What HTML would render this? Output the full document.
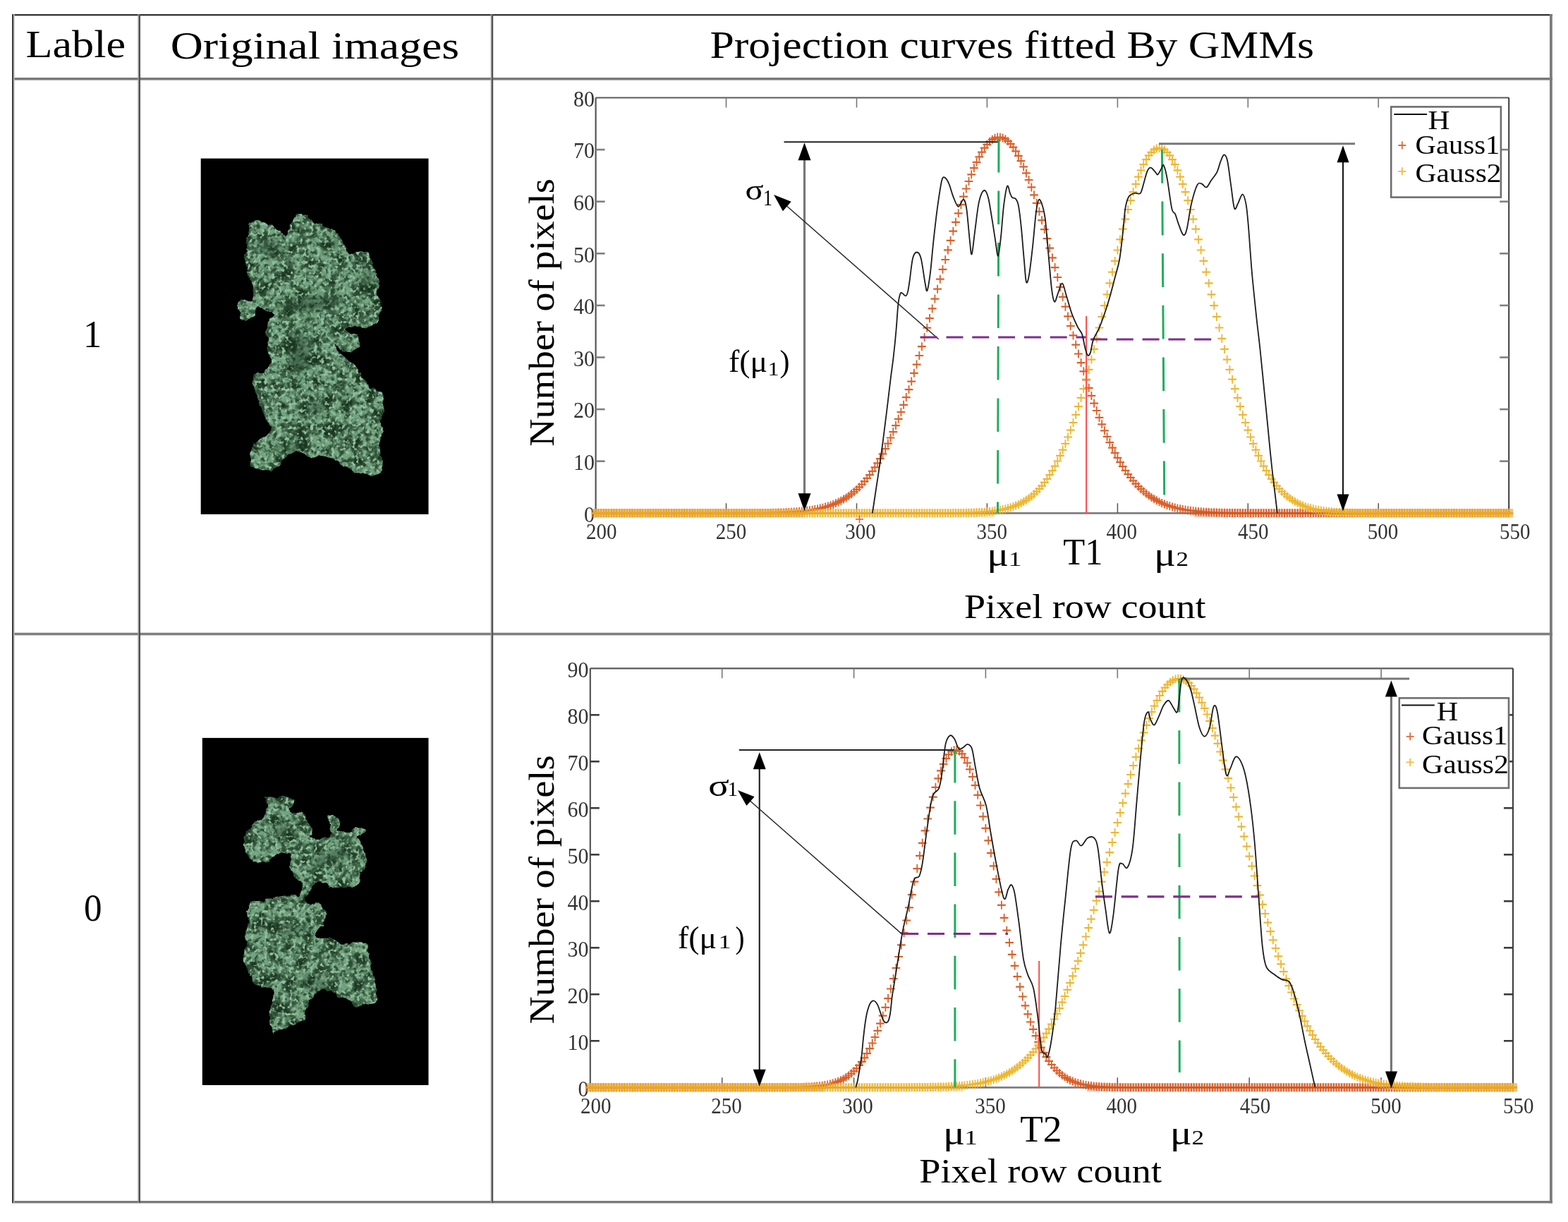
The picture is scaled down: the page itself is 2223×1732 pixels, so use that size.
<!DOCTYPE html><html><head><meta charset="utf-8"><title>Projection curves fitted by GMMs</title><style>html,body{margin:0;padding:0;background:#fff;overflow:hidden}svg{display:block}</style></head><body><svg width="2223" height="1732" viewBox="0 0 2223 1732" font-family="'Liberation Serif', 'DejaVu Serif', serif">
<defs><filter id="soft" x="-2%" y="-2%" width="104%" height="104%"><feGaussianBlur stdDeviation="0.45"/></filter><filter id="blur4" x="-50%" y="-50%" width="200%" height="200%"><feGaussianBlur stdDeviation="4"/></filter><filter id="lumpy" x="-5%" y="-5%" width="110%" height="110%"><feTurbulence type="fractalNoise" baseFrequency="0.09" numOctaves="2" seed="3" result="n"/><feDisplacementMap in="SourceGraphic" in2="n" scale="9" xChannelSelector="R" yChannelSelector="G"/></filter><filter id="dark1" x="0" y="0" width="100%" height="100%" color-interpolation-filters="sRGB"><feTurbulence type="fractalNoise" baseFrequency="0.05" numOctaves="3" seed="11" result="n"/><feColorMatrix in="n" type="matrix" values="0 0 0 0 0.10  0 0 0 0 0.21  0 0 0 0 0.12  0 0 0 -4.2 2.35"/></filter><filter id="mid1" x="0" y="0" width="100%" height="100%" color-interpolation-filters="sRGB"><feTurbulence type="fractalNoise" baseFrequency="0.16" numOctaves="2" seed="18" result="n"/><feColorMatrix in="n" type="matrix" values="0 0 0 0 0.17  0 0 0 0 0.30  0 0 0 0 0.20  0 0 0 -4 2.2"/></filter><filter id="light1" x="0" y="0" width="100%" height="100%" color-interpolation-filters="sRGB"><feTurbulence type="fractalNoise" baseFrequency="0.2" numOctaves="2" seed="31" result="n"/><feColorMatrix in="n" type="matrix" values="0 0 0 0 0.58  0 0 0 0 0.76  0 0 0 0 0.63  0 0 0 5 -2.55"/></filter><filter id="dark2" x="0" y="0" width="100%" height="100%" color-interpolation-filters="sRGB"><feTurbulence type="fractalNoise" baseFrequency="0.05" numOctaves="3" seed="5" result="n"/><feColorMatrix in="n" type="matrix" values="0 0 0 0 0.10  0 0 0 0 0.21  0 0 0 0 0.12  0 0 0 -4.2 2.35"/></filter><filter id="mid2" x="0" y="0" width="100%" height="100%" color-interpolation-filters="sRGB"><feTurbulence type="fractalNoise" baseFrequency="0.16" numOctaves="2" seed="12" result="n"/><feColorMatrix in="n" type="matrix" values="0 0 0 0 0.17  0 0 0 0 0.30  0 0 0 0 0.20  0 0 0 -4 2.2"/></filter><filter id="light2" x="0" y="0" width="100%" height="100%" color-interpolation-filters="sRGB"><feTurbulence type="fractalNoise" baseFrequency="0.2" numOctaves="2" seed="25" result="n"/><feColorMatrix in="n" type="matrix" values="0 0 0 0 0.58  0 0 0 0 0.76  0 0 0 0 0.63  0 0 0 5 -2.55"/></filter></defs>
<rect x="0.0" y="0.0" width="2223.0" height="1732.0" fill="#fff"/>
<rect x="17.0" y="20.0" width="2184.0" height="2.0" fill="#363636"/>
<rect x="17.0" y="22.0" width="2184.0" height="1.0" fill="#b8b8b8"/>
<rect x="17.0" y="110.0" width="2184.0" height="3.6" fill="#7a7a7a"/>
<rect x="17.0" y="896.8" width="2184.0" height="3.6" fill="#7e7e7e"/>
<rect x="17.0" y="1702.0" width="2184.0" height="3.4" fill="#7a7a7a"/>
<rect x="17.0" y="20.0" width="2.0" height="1685.0" fill="#3c3c3c"/>
<rect x="19.0" y="20.0" width="1.6" height="1685.0" fill="#b4b4b4"/>
<rect x="195.4" y="20.0" width="1.4" height="1685.0" fill="#a0a0a0"/>
<rect x="196.8" y="20.0" width="2.2" height="1685.0" fill="#505050"/>
<rect x="695.6" y="20.0" width="1.2" height="1685.0" fill="#a8a8a8"/>
<rect x="696.8" y="20.0" width="2.4" height="1685.0" fill="#555555"/>
<rect x="2197.0" y="20.0" width="3.8" height="1685.4" fill="#7c7c7c"/>
<text x="36.5" y="81.3" font-size="55.8" fill="#000" textLength="141.5" lengthAdjust="spacingAndGlyphs">Lable</text>
<text x="241.7" y="82.8" font-size="55.8" fill="#000" textLength="409.4" lengthAdjust="spacingAndGlyphs">Original images</text>
<text x="1006.5" y="81.8" font-size="55.8" fill="#000" textLength="856.5" lengthAdjust="spacingAndGlyphs">Projection curves fitted By GMMs</text>
<text x="117.9" y="491.8" font-size="55" fill="#000" textLength="26.2" lengthAdjust="spacingAndGlyphs">1</text>
<text x="118.9" y="1304.5" font-size="54" fill="#000" textLength="25.5" lengthAdjust="spacingAndGlyphs">0</text>
<rect x="284.7" y="224.6" width="322.8" height="504.3" fill="#000"/>
<mask id="tm1" maskUnits="userSpaceOnUse" x="284.7" y="224.6" width="322.8" height="504.3"><path d="M352.5,315.9 C354.3,312.3 359.0,312.6 363.4,312.8 C367.8,313.1 373.8,315.3 379.0,317.4 C384.2,319.5 390.5,322.3 394.6,325.2 C398.8,328.1 401.3,335.1 403.9,334.6 C406.5,334.1 407.5,326.8 410.1,322.1 C412.7,317.4 415.4,309.4 419.5,306.5 C423.6,303.6 430.9,303.4 435.0,305.0 C439.1,306.6 439.7,313.0 444.4,315.9 C449.1,318.8 457.4,319.5 463.1,322.1 C468.8,324.7 474.6,327.4 478.7,331.5 C482.8,335.6 485.4,342.3 488.0,347.0 C490.6,351.7 489.0,357.9 494.2,359.5 C499.4,361.1 513.9,354.8 519.1,356.4 C524.3,357.9 523.3,364.1 525.4,368.8 C527.5,373.5 529.5,379.7 531.6,384.4 C533.7,389.1 537.3,391.7 537.8,396.9 C538.3,402.1 534.4,410.3 534.7,415.5 C535.0,420.7 538.9,422.8 539.4,428.0 C539.9,433.2 539.1,441.5 537.8,446.7 C536.5,451.9 534.7,456.5 531.6,459.1 C528.5,461.7 524.1,461.8 519.0,462.5 C513.9,463.2 506.0,462.8 501.0,463.5 C496.0,464.2 489.7,465.1 489.0,466.5 C488.3,467.9 494.0,470.2 497.0,472.0 C500.0,473.8 504.8,474.3 507.0,477.0 C509.2,479.7 510.7,484.6 510.0,488.0 C509.3,491.4 506.5,495.8 503.0,497.5 C499.5,499.2 493.0,499.1 489.0,498.0 C485.0,496.9 481.5,492.5 479.0,491.0 C476.5,489.5 472.5,486.0 474.0,489.0 C475.5,492.0 482.6,503.6 488.0,509.0 C493.4,514.4 502.0,516.2 506.7,521.4 C511.4,526.6 512.4,535.4 516.0,540.1 C519.6,544.8 524.3,546.4 528.5,549.5 C532.7,552.6 538.4,554.1 541.0,558.8 C543.6,563.5 544.0,570.8 544.0,577.5 C544.0,584.2 540.9,593.1 540.9,599.3 C540.9,605.5 544.5,610.2 544.0,614.9 C543.5,619.6 538.3,622.1 537.8,627.3 C537.3,632.5 540.5,639.2 541.0,646.0 C541.5,652.8 544.6,663.4 541.0,667.8 C537.4,672.2 525.9,672.5 519.1,672.5 C512.4,672.5 507.8,671.2 500.5,667.8 C493.2,664.4 482.8,655.8 475.5,652.2 C468.2,648.6 463.1,646.5 456.9,646.0 C450.7,645.5 442.9,650.1 438.2,649.1 C433.5,648.1 432.4,641.3 428.8,639.8 C425.2,638.2 421.1,637.7 416.4,639.8 C411.7,641.9 405.5,648.1 400.8,652.2 C396.1,656.4 394.5,662.6 388.3,664.7 C382.1,666.8 369.1,666.8 363.4,664.7 C357.7,662.6 355.1,657.4 354.1,652.2 C353.1,647.0 354.6,638.7 357.2,633.5 C359.8,628.3 365.0,625.2 369.7,621.1 C374.4,617.0 384.2,613.3 385.2,608.6 C386.2,603.9 378.5,598.7 375.9,593.0 C373.3,587.3 372.3,581.1 369.7,574.4 C367.1,567.7 361.9,559.9 360.3,552.6 C358.7,545.3 357.7,534.9 360.3,530.8 C362.9,526.6 372.3,531.3 375.9,527.7 C379.5,524.1 381.6,516.8 382.1,509.0 C382.6,501.2 379.5,489.7 379.0,480.9 C378.5,472.1 377.4,461.7 379.0,456.0 C380.6,450.3 389.3,449.8 388.3,446.7 C387.3,443.6 377.0,439.4 372.8,437.3 C368.6,435.2 365.5,432.1 363.4,434.2 C361.3,436.3 363.4,446.7 360.3,449.8 C357.2,452.9 348.6,455.5 344.7,452.9 C340.8,450.3 337.0,438.9 337.0,434.2 C337.0,429.5 341.1,426.4 344.7,424.9 C348.3,423.3 356.7,428.5 358.8,424.9 C360.9,421.3 358.5,409.9 357.2,403.1 C355.9,396.4 352.6,391.7 351.0,384.4 C349.4,377.1 347.6,367.8 347.9,359.5 C348.1,351.2 351.7,341.9 352.5,334.6 C353.3,327.3 350.7,319.5 352.5,315.9Z" fill="#fff" filter="url(#lumpy)"/></mask>
<g mask="url(#tm1)">
<rect x="284.7" y="224.6" width="322.8" height="504.3" fill="#72a27f"/>
<rect x="284.7" y="224.6" width="322.8" height="504.3" filter="url(#dark1)"/>
<rect x="284.7" y="224.6" width="322.8" height="504.3" filter="url(#mid1)"/>
<rect x="284.7" y="224.6" width="322.8" height="504.3" filter="url(#light1)"/>
<ellipse cx="383" cy="352" rx="18" ry="12" transform="rotate(30 383 352)" fill="#12301a" opacity="0.45" filter="url(#blur4)"/>
<ellipse cx="440" cy="431" rx="45" ry="10" transform="rotate(-8 440 431)" fill="#12301a" opacity="0.5" filter="url(#blur4)"/>
<ellipse cx="423" cy="500" rx="13" ry="32" transform="rotate(0 423 500)" fill="#12301a" opacity="0.5" filter="url(#blur4)"/>
<ellipse cx="520" cy="400" rx="12" ry="18" transform="rotate(0 520 400)" fill="#12301a" opacity="0.35" filter="url(#blur4)"/>
<ellipse cx="448" cy="579" rx="13" ry="10" transform="rotate(0 448 579)" fill="#12301a" opacity="0.45" filter="url(#blur4)"/>
<ellipse cx="408" cy="636" rx="17" ry="7" transform="rotate(0 408 636)" fill="#12301a" opacity="0.4" filter="url(#blur4)"/>
<ellipse cx="470" cy="345" rx="12" ry="8" transform="rotate(0 470 345)" fill="#12301a" opacity="0.3" filter="url(#blur4)"/>
</g>
<rect x="286.8" y="1045.9" width="320.7" height="492.1" fill="#000"/>
<mask id="tm2" maskUnits="userSpaceOnUse" x="286.8" y="1045.9" width="320.7" height="492.1"><path d="M379.0,1129.7 C385.0,1129.4 407.3,1129.7 413.3,1131.2 C419.2,1132.8 415.3,1135.9 414.8,1139.0 C414.3,1142.1 407.8,1147.8 410.1,1149.9 C412.5,1152.0 424.2,1148.6 428.8,1151.5 C433.5,1154.3 435.8,1162.9 438.2,1167.0 C440.5,1171.2 442.8,1173.3 442.8,1176.4 C442.8,1179.5 435.8,1183.6 438.2,1185.7 C440.5,1187.8 451.7,1189.3 456.9,1188.8 C462.0,1188.3 467.8,1188.1 469.3,1182.6 C470.9,1177.2 465.2,1160.3 466.2,1156.1 C467.2,1152.0 472.4,1155.9 475.5,1157.7 C478.7,1159.5 484.4,1163.9 484.9,1167.0 C485.4,1170.1 477.6,1174.3 478.7,1176.4 C479.7,1178.4 485.4,1180.0 491.1,1179.5 C496.8,1179.0 508.5,1173.5 512.9,1173.3 C517.3,1173.0 518.6,1175.9 517.6,1177.9 C516.5,1180.0 507.5,1182.3 506.7,1185.7 C505.9,1189.1 510.8,1193.0 512.9,1198.2 C515.0,1203.4 518.4,1211.7 519.1,1216.9 C519.9,1222.0 519.1,1225.2 517.6,1229.3 C516.0,1233.5 511.6,1237.6 509.8,1241.8 C508.0,1245.9 509.3,1251.4 506.7,1254.2 C504.1,1257.1 500.5,1258.6 494.2,1258.9 C488.0,1259.2 476.6,1257.1 469.3,1255.8 C462.0,1254.5 455.6,1250.3 450.6,1251.1 C445.7,1251.9 442.6,1256.3 439.7,1260.5 C436.9,1264.6 433.8,1272.9 433.5,1276.0 C433.2,1279.1 434.3,1277.6 438.2,1279.1 C442.1,1280.7 453.0,1282.3 456.9,1285.4 C460.8,1288.5 461.5,1293.7 461.5,1297.8 C461.5,1302.0 459.2,1306.7 456.9,1310.3 C454.5,1313.9 449.1,1316.5 447.5,1319.6 C446.0,1322.7 444.9,1327.4 447.5,1329.0 C450.1,1330.5 458.4,1328.2 463.1,1329.0 C467.8,1329.8 471.4,1332.1 475.5,1333.6 C479.7,1335.2 482.8,1338.1 488.0,1338.3 C493.2,1338.6 501.5,1335.2 506.7,1335.2 C511.9,1335.2 516.3,1334.7 519.1,1338.3 C522.0,1341.9 522.3,1350.8 523.8,1357.0 C525.4,1363.2 526.9,1368.4 528.5,1375.7 C530.0,1383.0 532.4,1393.3 533.2,1400.6 C533.9,1407.9 535.0,1415.7 533.2,1419.3 C531.3,1422.9 526.7,1421.4 522.3,1422.4 C517.8,1423.4 511.4,1426.0 506.7,1425.5 C502.0,1425.0 499.4,1421.9 494.2,1419.3 C489.0,1416.7 480.2,1412.5 475.5,1409.9 C470.9,1407.3 469.8,1404.8 466.2,1403.7 C462.6,1402.7 457.4,1402.2 453.7,1403.7 C450.1,1405.3 447.0,1409.9 444.4,1413.1 C441.8,1416.2 440.2,1418.8 438.2,1422.4 C436.1,1426.0 433.0,1430.7 431.9,1434.9 C430.9,1439.0 435.1,1444.2 431.9,1447.3 C428.8,1450.4 419.5,1451.5 413.3,1453.5 C407.0,1455.6 399.0,1458.0 394.6,1459.8 C390.2,1461.6 388.6,1468.1 386.8,1464.4 C385.0,1460.8 383.9,1445.0 383.7,1438.0 C383.4,1431.0 384.7,1428.1 385.2,1422.4 C385.7,1416.7 389.4,1407.9 386.8,1403.7 C384.2,1399.6 374.1,1399.6 369.7,1397.5 C365.2,1395.4 363.4,1394.9 360.3,1391.3 C357.2,1387.6 353.3,1381.9 351.0,1375.7 C348.6,1369.5 346.6,1360.1 346.3,1353.9 C346.0,1347.7 349.2,1343.5 349.4,1338.3 C349.7,1333.1 347.3,1327.4 347.9,1322.7 C348.4,1318.1 352.0,1316.0 352.5,1310.3 C353.0,1304.6 350.5,1293.7 351.0,1288.5 C351.5,1283.3 352.0,1281.2 355.6,1279.1 C359.3,1277.1 366.3,1277.3 372.8,1276.0 C379.3,1274.7 387.8,1272.4 394.6,1271.4 C401.3,1270.3 408.6,1269.8 413.3,1269.8 C417.9,1269.8 420.3,1271.9 422.6,1271.4 C424.9,1270.8 426.2,1269.5 427.3,1266.7 C428.3,1263.8 430.6,1258.4 428.8,1254.2 C427.0,1250.1 419.2,1245.9 416.4,1241.8 C413.5,1237.6 412.2,1234.0 411.7,1229.3 C411.2,1224.6 414.0,1217.4 413.3,1213.7 C412.5,1210.1 411.2,1207.5 407.0,1207.5 C402.9,1207.5 393.5,1211.1 388.3,1213.7 C383.2,1216.3 380.6,1222.0 375.9,1223.1 C371.2,1224.1 365.0,1223.1 360.3,1220.0 C355.6,1216.9 350.2,1209.6 347.9,1204.4 C345.5,1199.2 345.0,1194.0 346.3,1188.8 C347.6,1183.6 352.8,1177.4 355.6,1173.3 C358.5,1169.1 360.6,1166.5 363.4,1163.9 C366.3,1161.3 370.2,1160.8 372.8,1157.7 C375.4,1154.6 378.2,1149.4 379.0,1145.2 C379.8,1141.1 377.4,1135.4 377.4,1132.8 C377.4,1130.2 373.0,1129.9 379.0,1129.7Z" fill="#fff" filter="url(#lumpy)"/></mask>
<g mask="url(#tm2)">
<rect x="286.8" y="1045.9" width="320.7" height="492.1" fill="#72a27f"/>
<rect x="286.8" y="1045.9" width="320.7" height="492.1" filter="url(#dark2)"/>
<rect x="286.8" y="1045.9" width="320.7" height="492.1" filter="url(#mid2)"/>
<rect x="286.8" y="1045.9" width="320.7" height="492.1" filter="url(#light2)"/>
<ellipse cx="400" cy="1175" rx="14" ry="10" transform="rotate(0 400 1175)" fill="#12301a" opacity="0.35" filter="url(#blur4)"/>
<ellipse cx="470" cy="1215" rx="30" ry="10" transform="rotate(-20 470 1215)" fill="#12301a" opacity="0.35" filter="url(#blur4)"/>
<ellipse cx="420" cy="1320" rx="30" ry="7" transform="rotate(0 420 1320)" fill="#12301a" opacity="0.3" filter="url(#blur4)"/>
<ellipse cx="450" cy="1395" rx="25" ry="12" transform="rotate(20 450 1395)" fill="#12301a" opacity="0.3" filter="url(#blur4)"/>
</g>
<line x1="844.6" y1="138.5" x2="2139.2" y2="138.5" stroke="#5a5a5a" stroke-width="2.2" />
<line x1="844.6" y1="727.3" x2="2139.2" y2="727.3" stroke="#7f7f7f" stroke-width="2.8" />
<line x1="844.6" y1="138.5" x2="844.6" y2="727.3" stroke="#555" stroke-width="2.2" />
<line x1="2139.2" y1="138.5" x2="2139.2" y2="727.3" stroke="#3a3a3a" stroke-width="2" />
<line x1="1029.5" y1="138.5" x2="1029.5" y2="152.5" stroke="#777" stroke-width="1.6" />
<line x1="1029.5" y1="727.3" x2="1029.5" y2="713.3" stroke="#555" stroke-width="1.5" />
<line x1="1214.5" y1="138.5" x2="1214.5" y2="152.5" stroke="#777" stroke-width="1.6" />
<line x1="1214.5" y1="727.3" x2="1214.5" y2="713.3" stroke="#555" stroke-width="1.5" />
<line x1="1399.4" y1="138.5" x2="1399.4" y2="152.5" stroke="#777" stroke-width="1.6" />
<line x1="1399.4" y1="727.3" x2="1399.4" y2="713.3" stroke="#555" stroke-width="1.5" />
<line x1="1584.4" y1="138.5" x2="1584.4" y2="152.5" stroke="#777" stroke-width="1.6" />
<line x1="1584.4" y1="727.3" x2="1584.4" y2="713.3" stroke="#555" stroke-width="1.5" />
<line x1="1769.3" y1="138.5" x2="1769.3" y2="152.5" stroke="#777" stroke-width="1.6" />
<line x1="1769.3" y1="727.3" x2="1769.3" y2="713.3" stroke="#555" stroke-width="1.5" />
<line x1="1954.2" y1="138.5" x2="1954.2" y2="152.5" stroke="#777" stroke-width="1.6" />
<line x1="1954.2" y1="727.3" x2="1954.2" y2="713.3" stroke="#555" stroke-width="1.5" />
<line x1="844.6" y1="653.7" x2="857.6" y2="653.7" stroke="#808080" stroke-width="2.6" />
<line x1="2139.2" y1="653.7" x2="2126.2" y2="653.7" stroke="#808080" stroke-width="2.6" />
<line x1="844.6" y1="580.1" x2="857.6" y2="580.1" stroke="#808080" stroke-width="2.6" />
<line x1="2139.2" y1="580.1" x2="2126.2" y2="580.1" stroke="#808080" stroke-width="2.6" />
<line x1="844.6" y1="506.5" x2="857.6" y2="506.5" stroke="#808080" stroke-width="2.6" />
<line x1="2139.2" y1="506.5" x2="2126.2" y2="506.5" stroke="#808080" stroke-width="2.6" />
<line x1="844.6" y1="432.9" x2="857.6" y2="432.9" stroke="#808080" stroke-width="2.6" />
<line x1="2139.2" y1="432.9" x2="2126.2" y2="432.9" stroke="#808080" stroke-width="2.6" />
<line x1="844.6" y1="359.3" x2="857.6" y2="359.3" stroke="#808080" stroke-width="2.6" />
<line x1="2139.2" y1="359.3" x2="2126.2" y2="359.3" stroke="#808080" stroke-width="2.6" />
<line x1="844.6" y1="285.7" x2="857.6" y2="285.7" stroke="#808080" stroke-width="2.6" />
<line x1="2139.2" y1="285.7" x2="2126.2" y2="285.7" stroke="#808080" stroke-width="2.6" />
<line x1="844.6" y1="212.1" x2="857.6" y2="212.1" stroke="#808080" stroke-width="2.6" />
<line x1="2139.2" y1="212.1" x2="2126.2" y2="212.1" stroke="#808080" stroke-width="2.6" />
<text x="828.0" y="739.6" font-size="31.5" fill="#333" textLength="15.0" lengthAdjust="spacingAndGlyphs">0</text>
<text x="813.0" y="666.0" font-size="31.5" fill="#333" textLength="30.0" lengthAdjust="spacingAndGlyphs">10</text>
<text x="813.0" y="592.4" font-size="31.5" fill="#333" textLength="30.0" lengthAdjust="spacingAndGlyphs">20</text>
<text x="813.0" y="518.8" font-size="31.5" fill="#333" textLength="30.0" lengthAdjust="spacingAndGlyphs">30</text>
<text x="813.0" y="445.2" font-size="31.5" fill="#333" textLength="30.0" lengthAdjust="spacingAndGlyphs">40</text>
<text x="813.0" y="371.6" font-size="31.5" fill="#333" textLength="30.0" lengthAdjust="spacingAndGlyphs">50</text>
<text x="813.0" y="298.0" font-size="31.5" fill="#333" textLength="30.0" lengthAdjust="spacingAndGlyphs">60</text>
<text x="813.0" y="224.4" font-size="31.5" fill="#333" textLength="30.0" lengthAdjust="spacingAndGlyphs">70</text>
<text x="813.0" y="150.8" font-size="31.5" fill="#333" textLength="30.0" lengthAdjust="spacingAndGlyphs">80</text>
<text x="830.9" y="763.5" font-size="31.5" fill="#333" textLength="43.5" lengthAdjust="spacingAndGlyphs">200</text>
<text x="1014.7" y="763.5" font-size="31.5" fill="#333" textLength="43.5" lengthAdjust="spacingAndGlyphs">250</text>
<text x="1198.3" y="763.5" font-size="31.5" fill="#333" textLength="43.5" lengthAdjust="spacingAndGlyphs">300</text>
<text x="1384.6" y="763.5" font-size="31.5" fill="#333" textLength="43.5" lengthAdjust="spacingAndGlyphs">350</text>
<text x="1568.6" y="763.5" font-size="31.5" fill="#333" textLength="43.5" lengthAdjust="spacingAndGlyphs">400</text>
<text x="1754.9" y="763.5" font-size="31.5" fill="#333" textLength="43.5" lengthAdjust="spacingAndGlyphs">450</text>
<text x="1938.8" y="763.5" font-size="31.5" fill="#333" textLength="43.5" lengthAdjust="spacingAndGlyphs">500</text>
<text x="2125.9" y="763.5" font-size="31.5" fill="#333" textLength="43.5" lengthAdjust="spacingAndGlyphs">550</text>
<rect x="838.6" y="721.3" width="300.5" height="12" fill="#D95319" opacity="0.33"/>
<rect x="1693.0" y="721.3" width="452.2" height="12" fill="#D95319" opacity="0.33"/>
<g filter="url(#soft)" opacity="0.92"><path d="M838.7,727.3h11.8M842.4,727.3h11.8M846.1,727.3h11.8M849.8,727.3h11.8M853.5,727.3h11.8M857.2,727.3h11.8M860.9,727.3h11.8M864.6,727.3h11.8M868.3,727.3h11.8M872.0,727.3h11.8M875.7,727.3h11.8M879.4,727.3h11.8M883.1,727.3h11.8M886.8,727.3h11.8M890.5,727.3h11.8M894.2,727.3h11.8M897.9,727.3h11.8M901.6,727.3h11.8M905.3,727.3h11.8M909.0,727.3h11.8M912.7,727.3h11.8M916.4,727.3h11.8M920.1,727.3h11.8M923.8,727.3h11.8M927.5,727.3h11.8M931.2,727.3h11.8M934.9,727.3h11.8M938.6,727.3h11.8M942.3,727.3h11.8M946.0,727.3h11.8M949.7,727.3h11.8M953.4,727.3h11.8M957.1,727.3h11.8M960.8,727.3h11.8M964.5,727.3h11.8M968.2,727.3h11.8M971.9,727.3h11.8M975.6,727.3h11.8M979.3,727.3h11.8M983.0,727.3h11.8M986.7,727.3h11.8M990.4,727.3h11.8M994.0,727.3h11.8M997.7,727.3h11.8M1001.4,727.3h11.8M1005.1,727.3h11.8M1008.8,727.3h11.8M1012.5,727.3h11.8M1016.2,727.3h11.8M1019.9,727.3h11.8M1023.6,727.3h11.8M1027.3,727.3h11.8M1031.0,727.3h11.8M1034.7,727.3h11.8M1038.4,727.3h11.8M1042.1,727.2h11.8M1045.8,727.2h11.8M1049.5,727.2h11.8M1053.2,727.2h11.8M1056.9,727.2h11.8M1060.6,727.2h11.8M1064.3,727.1h11.8M1068.0,727.1h11.8M1071.7,727.1h11.8M1075.4,727.0h11.8M1079.1,727.0h11.8M1082.8,726.9h11.8M1086.5,726.9h11.8M1090.2,726.8h11.8M1093.9,726.7h11.8M1097.6,726.6h11.8M1101.3,726.5h11.8M1105.0,726.4h11.8M1108.7,726.2h11.8M1112.4,726.0h11.8M1116.1,725.8h11.8M1119.8,725.6h11.8M1123.5,725.3h11.8M1127.2,725.0h11.8M1130.9,724.7h11.8M1134.6,724.3h11.8M1138.3,723.8h11.8M1142.0,723.3h11.8M1145.7,722.7h11.8M1149.4,722.1h11.8M1153.1,721.4h11.8M1156.8,720.6h11.8M1160.5,719.7h11.8M1164.2,718.6h11.8M1167.9,717.5h11.8M1171.6,716.3h11.8M1175.3,714.9h11.8M1179.0,713.3h11.8M1182.7,711.6h11.8M1186.4,709.7h11.8M1190.1,707.6h11.8M1193.8,705.4h11.8M1197.5,702.9h11.8M1201.2,700.1h11.8M1204.9,697.1h11.8M1208.6,693.9h11.8M1212.3,690.4h11.8M1216.0,686.5h11.8M1219.7,682.4h11.8M1223.4,677.9h11.8M1227.1,673.1h11.8M1230.8,667.9h11.8M1234.5,662.4h11.8M1238.2,656.4h11.8M1241.9,650.1h11.8M1245.6,643.3h11.8M1249.3,636.2h11.8M1253.0,628.6h11.8M1256.7,620.5h11.8M1260.4,612.1h11.8M1264.1,603.1h11.8M1267.8,593.8h11.8M1271.5,584.0h11.8M1275.2,573.8h11.8M1278.9,563.1h11.8M1282.6,552.1h11.8M1286.3,540.6h11.8M1290.0,528.8h11.8M1293.7,516.6h11.8M1297.4,504.0h11.8M1301.0,491.2h11.8M1304.7,478.1h11.8M1308.4,464.7h11.8M1312.1,451.1h11.8M1315.8,437.4h11.8M1319.5,423.6h11.8M1323.2,409.7h11.8M1326.9,395.7h11.8M1330.6,381.8h11.8M1334.3,368.0h11.8M1338.0,354.4h11.8M1341.7,340.9h11.8M1345.4,327.7h11.8M1349.1,314.8h11.8M1352.8,302.3h11.8M1356.5,290.2h11.8M1360.2,278.6h11.8M1363.9,267.5h11.8M1367.6,257.0h11.8M1371.3,247.3h11.8M1375.0,238.2h11.8M1378.7,229.8h11.8M1382.4,222.3h11.8M1386.1,215.6h11.8M1389.8,209.7h11.8M1393.5,204.8h11.8M1397.2,200.8h11.8M1400.9,197.8h11.8M1404.6,195.7h11.8M1408.3,194.6h11.8M1412.0,194.5h11.8M1415.7,195.4h11.8M1419.4,197.3h11.8M1423.1,200.1h11.8M1426.8,203.9h11.8M1430.5,208.7h11.8M1434.2,214.3h11.8M1437.9,220.9h11.8M1441.6,228.2h11.8M1445.3,236.4h11.8M1449.0,245.4h11.8M1452.7,255.0h11.8M1456.4,265.4h11.8M1460.1,276.3h11.8M1463.8,287.8h11.8M1467.5,299.8h11.8M1471.2,312.2h11.8M1474.9,325.1h11.8M1478.6,338.2h11.8M1482.3,351.7h11.8M1486.0,365.3h11.8M1489.7,379.1h11.8M1493.4,393.0h11.8M1497.1,406.9h11.8M1500.8,420.8h11.8M1504.5,434.7h11.8M1508.2,448.4h11.8M1511.9,462.0h11.8M1515.6,475.4h11.8M1519.3,488.6h11.8M1523.0,501.5h11.8M1526.7,514.1h11.8M1530.4,526.3h11.8M1534.1,538.3h11.8M1537.8,549.8h11.8M1541.5,560.9h11.8M1545.2,571.7h11.8M1548.9,582.0h11.8M1552.6,591.9h11.8M1556.3,601.3h11.8M1560.0,610.3h11.8M1563.7,618.9h11.8M1567.4,627.0h11.8M1571.1,634.7h11.8M1574.8,641.9h11.8M1578.5,648.8h11.8M1582.2,655.2h11.8M1585.9,661.2h11.8M1589.6,666.8h11.8M1593.3,672.1h11.8M1597.0,677.0h11.8M1600.7,681.5h11.8M1604.4,685.7h11.8M1608.1,689.6h11.8M1611.7,693.2h11.8M1615.4,696.5h11.8M1619.1,699.5h11.8M1622.8,702.3h11.8M1626.5,704.9h11.8M1630.2,707.2h11.8M1633.9,709.3h11.8M1637.6,711.2h11.8M1641.3,713.0h11.8M1645.0,714.6h11.8M1648.7,716.0h11.8M1652.4,717.3h11.8M1656.1,718.4h11.8M1659.8,719.5h11.8M1663.5,720.4h11.8M1667.2,721.2h11.8M1670.9,722.0h11.8M1674.6,722.6h11.8M1678.3,723.2h11.8M1682.0,723.7h11.8M1685.7,724.2h11.8M1689.4,724.6h11.8M1693.1,724.9h11.8M1696.8,725.3h11.8M1700.5,725.5h11.8M1704.2,725.8h11.8M1707.9,726.0h11.8M1711.6,726.2h11.8M1715.3,726.3h11.8M1719.0,726.5h11.8M1722.7,726.6h11.8M1726.4,726.7h11.8M1730.1,726.8h11.8M1733.8,726.9h11.8M1737.5,726.9h11.8M1741.2,727.0h11.8M1744.9,727.0h11.8M1748.6,727.1h11.8M1752.3,727.1h11.8M1756.0,727.1h11.8M1759.7,727.2h11.8M1763.4,727.2h11.8M1767.1,727.2h11.8M1770.8,727.2h11.8M1774.5,727.2h11.8M1778.2,727.2h11.8M1781.9,727.3h11.8M1785.6,727.3h11.8M1789.3,727.3h11.8M1793.0,727.3h11.8M1796.7,727.3h11.8M1800.4,727.3h11.8M1804.1,727.3h11.8M1807.8,727.3h11.8M1811.5,727.3h11.8M1815.2,727.3h11.8M1818.9,727.3h11.8M1822.6,727.3h11.8M1826.3,727.3h11.8M1830.0,727.3h11.8M1833.7,727.3h11.8M1837.4,727.3h11.8M1841.1,727.3h11.8M1844.8,727.3h11.8M1848.5,727.3h11.8M1852.2,727.3h11.8M1855.9,727.3h11.8M1859.6,727.3h11.8M1863.3,727.3h11.8M1867.0,727.3h11.8M1870.7,727.3h11.8M1874.4,727.3h11.8M1878.1,727.3h11.8M1881.8,727.3h11.8M1885.5,727.3h11.8M1889.2,727.3h11.8M1892.9,727.3h11.8M1896.6,727.3h11.8M1900.3,727.3h11.8M1904.0,727.3h11.8M1907.7,727.3h11.8M1911.4,727.3h11.8M1915.1,727.3h11.8M1918.7,727.3h11.8M1922.4,727.3h11.8M1926.1,727.3h11.8M1929.8,727.3h11.8M1933.5,727.3h11.8M1937.2,727.3h11.8M1940.9,727.3h11.8M1944.6,727.3h11.8M1948.3,727.3h11.8M1952.0,727.3h11.8M1955.7,727.3h11.8M1959.4,727.3h11.8M1963.1,727.3h11.8M1966.8,727.3h11.8M1970.5,727.3h11.8M1974.2,727.3h11.8M1977.9,727.3h11.8M1981.6,727.3h11.8M1985.3,727.3h11.8M1989.0,727.3h11.8M1992.7,727.3h11.8M1996.4,727.3h11.8M2000.1,727.3h11.8M2003.8,727.3h11.8M2007.5,727.3h11.8M2011.2,727.3h11.8M2014.9,727.3h11.8M2018.6,727.3h11.8M2022.3,727.3h11.8M2026.0,727.3h11.8M2029.7,727.3h11.8M2033.4,727.3h11.8M2037.1,727.3h11.8M2040.8,727.3h11.8M2044.5,727.3h11.8M2048.2,727.3h11.8M2051.9,727.3h11.8M2055.6,727.3h11.8M2059.3,727.3h11.8M2063.0,727.3h11.8M2066.7,727.3h11.8M2070.4,727.3h11.8M2074.1,727.3h11.8M2077.8,727.3h11.8M2081.5,727.3h11.8M2085.2,727.3h11.8M2088.9,727.3h11.8M2092.6,727.3h11.8M2096.3,727.3h11.8M2100.0,727.3h11.8M2103.7,727.3h11.8M2107.4,727.3h11.8M2111.1,727.3h11.8M2114.8,727.3h11.8M2118.5,727.3h11.8M2122.2,727.3h11.8M2125.9,727.3h11.8M2129.6,727.3h11.8M2133.3,727.3h11.8" stroke="#D95319" stroke-width="2.2" fill="none"/><path d="M844.6,721.3v12M848.3,721.3v12M852.0,721.3v12M855.7,721.3v12M859.4,721.3v12M863.1,721.3v12M866.8,721.3v12M870.5,721.3v12M874.2,721.3v12M877.9,721.3v12M881.6,721.3v12M885.3,721.3v12M889.0,721.3v12M892.7,721.3v12M896.4,721.3v12M900.1,721.3v12M903.8,721.3v12M907.5,721.3v12M911.2,721.3v12M914.9,721.3v12M918.6,721.3v12M922.3,721.3v12M926.0,721.3v12M929.7,721.3v12M933.4,721.3v12M937.1,721.3v12M940.8,721.3v12M944.5,721.3v12M948.2,721.3v12M951.9,721.3v12M955.6,721.3v12M959.3,721.3v12M963.0,721.3v12M966.7,721.3v12M970.4,721.3v12M974.1,721.3v12M977.8,721.3v12M981.5,721.3v12M985.2,721.3v12M988.9,721.3v12M992.6,721.3v12M996.3,721.3v12M999.9,721.3v12M1003.6,721.3v12M1007.3,721.3v12M1011.0,721.3v12M1014.7,721.3v12M1018.4,721.3v12M1022.1,721.3v12M1025.8,721.3v12M1029.5,721.3v12M1033.2,721.3v12M1036.9,721.3v12M1040.6,721.3v12M1044.3,721.3v12M1048.0,721.2v12M1051.7,721.2v12M1055.4,721.2v12M1059.1,721.2v12M1062.8,721.2v12M1066.5,721.2v12M1070.2,721.1v12M1073.9,721.1v12M1077.6,721.1v12M1081.3,721.0v12M1085.0,721.0v12M1088.7,720.9v12M1092.4,720.9v12M1096.1,720.8v12M1099.8,720.7v12M1103.5,720.6v12M1107.2,720.5v12M1110.9,720.4v12M1114.6,720.2v12M1118.3,720.0v12M1122.0,719.8v12M1125.7,719.6v12M1129.4,719.3v12M1133.1,719.0v12M1136.8,718.7v12M1140.5,718.3v12M1144.2,717.8v12M1147.9,717.3v12M1151.6,716.7v12M1155.3,716.1v12M1159.0,715.4v12M1162.7,714.6v12M1166.4,713.7v12M1170.1,712.6v12M1173.8,711.5v12M1177.5,710.3v12M1181.2,708.9v12M1184.9,707.3v12M1188.6,705.6v12M1192.3,703.7v12M1196.0,701.6v12M1199.7,699.4v12M1203.4,696.9v12M1207.1,694.1v12M1210.8,691.1v12M1214.5,687.9v12M1218.2,684.4v12M1221.9,680.5v12M1225.6,676.4v12M1229.3,671.9v12M1233.0,667.1v12M1236.7,661.9v12M1240.4,656.4v12M1244.1,650.4v12M1247.8,644.1v12M1251.5,637.3v12M1255.2,630.2v12M1258.9,622.6v12M1262.6,614.5v12M1266.3,606.1v12M1270.0,597.1v12M1273.7,587.8v12M1277.4,578.0v12M1281.1,567.8v12M1284.8,557.1v12M1288.5,546.1v12M1292.2,534.6v12M1295.9,522.8v12M1299.6,510.6v12M1303.3,498.0v12M1307.0,485.2v12M1310.6,472.1v12M1314.3,458.7v12M1318.0,445.1v12M1321.7,431.4v12M1325.4,417.6v12M1329.1,403.7v12M1332.8,389.7v12M1336.5,375.8v12M1340.2,362.0v12M1343.9,348.4v12M1347.6,334.9v12M1351.3,321.7v12M1355.0,308.8v12M1358.7,296.3v12M1362.4,284.2v12M1366.1,272.6v12M1369.8,261.5v12M1373.5,251.0v12M1377.2,241.3v12M1380.9,232.2v12M1384.6,223.8v12M1388.3,216.3v12M1392.0,209.6v12M1395.7,203.7v12M1399.4,198.8v12M1403.1,194.8v12M1406.8,191.8v12M1410.5,189.7v12M1414.2,188.6v12M1417.9,188.5v12M1421.6,189.4v12M1425.3,191.3v12M1429.0,194.1v12M1432.7,197.9v12M1436.4,202.7v12M1440.1,208.3v12M1443.8,214.9v12M1447.5,222.2v12M1451.2,230.4v12M1454.9,239.4v12M1458.6,249.0v12M1462.3,259.4v12M1466.0,270.3v12M1469.7,281.8v12M1473.4,293.8v12M1477.1,306.2v12M1480.8,319.1v12M1484.5,332.2v12M1488.2,345.7v12M1491.9,359.3v12M1495.6,373.1v12M1499.3,387.0v12M1503.0,400.9v12M1506.7,414.8v12M1510.4,428.7v12M1514.1,442.4v12M1517.8,456.0v12M1521.5,469.4v12M1525.2,482.6v12M1528.9,495.5v12M1532.6,508.1v12M1536.3,520.3v12M1540.0,532.3v12M1543.7,543.8v12M1547.4,554.9v12M1551.1,565.7v12M1554.8,576.0v12M1558.5,585.9v12M1562.2,595.3v12M1565.9,604.3v12M1569.6,612.9v12M1573.3,621.0v12M1577.0,628.7v12M1580.7,635.9v12M1584.4,642.8v12M1588.1,649.2v12M1591.8,655.2v12M1595.5,660.8v12M1599.2,666.1v12M1602.9,671.0v12M1606.6,675.5v12M1610.3,679.7v12M1614.0,683.6v12M1617.6,687.2v12M1621.3,690.5v12M1625.0,693.5v12M1628.7,696.3v12M1632.4,698.9v12M1636.1,701.2v12M1639.8,703.3v12M1643.5,705.2v12M1647.2,707.0v12M1650.9,708.6v12M1654.6,710.0v12M1658.3,711.3v12M1662.0,712.4v12M1665.7,713.5v12M1669.4,714.4v12M1673.1,715.2v12M1676.8,716.0v12M1680.5,716.6v12M1684.2,717.2v12M1687.9,717.7v12M1691.6,718.2v12M1695.3,718.6v12M1699.0,718.9v12M1702.7,719.3v12M1706.4,719.5v12M1710.1,719.8v12M1713.8,720.0v12M1717.5,720.2v12M1721.2,720.3v12M1724.9,720.5v12M1728.6,720.6v12M1732.3,720.7v12M1736.0,720.8v12M1739.7,720.9v12M1743.4,720.9v12M1747.1,721.0v12M1750.8,721.0v12M1754.5,721.1v12M1758.2,721.1v12M1761.9,721.1v12M1765.6,721.2v12M1769.3,721.2v12M1773.0,721.2v12M1776.7,721.2v12M1780.4,721.2v12M1784.1,721.2v12M1787.8,721.3v12M1791.5,721.3v12M1795.2,721.3v12M1798.9,721.3v12M1802.6,721.3v12M1806.3,721.3v12M1810.0,721.3v12M1813.7,721.3v12M1817.4,721.3v12M1821.1,721.3v12M1824.8,721.3v12M1828.5,721.3v12M1832.2,721.3v12M1835.9,721.3v12M1839.6,721.3v12M1843.3,721.3v12M1847.0,721.3v12M1850.7,721.3v12M1854.4,721.3v12M1858.1,721.3v12M1861.8,721.3v12M1865.5,721.3v12M1869.2,721.3v12M1872.9,721.3v12M1876.6,721.3v12M1880.3,721.3v12M1884.0,721.3v12M1887.7,721.3v12M1891.4,721.3v12M1895.1,721.3v12M1898.8,721.3v12M1902.5,721.3v12M1906.2,721.3v12M1909.9,721.3v12M1913.6,721.3v12M1917.3,721.3v12M1921.0,721.3v12M1924.6,721.3v12M1928.3,721.3v12M1932.0,721.3v12M1935.7,721.3v12M1939.4,721.3v12M1943.1,721.3v12M1946.8,721.3v12M1950.5,721.3v12M1954.2,721.3v12M1957.9,721.3v12M1961.6,721.3v12M1965.3,721.3v12M1969.0,721.3v12M1972.7,721.3v12M1976.4,721.3v12M1980.1,721.3v12M1983.8,721.3v12M1987.5,721.3v12M1991.2,721.3v12M1994.9,721.3v12M1998.6,721.3v12M2002.3,721.3v12M2006.0,721.3v12M2009.7,721.3v12M2013.4,721.3v12M2017.1,721.3v12M2020.8,721.3v12M2024.5,721.3v12M2028.2,721.3v12M2031.9,721.3v12M2035.6,721.3v12M2039.3,721.3v12M2043.0,721.3v12M2046.7,721.3v12M2050.4,721.3v12M2054.1,721.3v12M2057.8,721.3v12M2061.5,721.3v12M2065.2,721.3v12M2068.9,721.3v12M2072.6,721.3v12M2076.3,721.3v12M2080.0,721.3v12M2083.7,721.3v12M2087.4,721.3v12M2091.1,721.3v12M2094.8,721.3v12M2098.5,721.3v12M2102.2,721.3v12M2105.9,721.3v12M2109.6,721.3v12M2113.3,721.3v12M2117.0,721.3v12M2120.7,721.3v12M2124.4,721.3v12M2128.1,721.3v12M2131.8,721.3v12M2135.5,721.3v12M2139.2,721.3v12" stroke="#D95319" stroke-width="1.8" fill="none"/></g>
<rect x="838.6" y="721.3" width="570.5" height="12" fill="#EDB120" opacity="0.33"/>
<rect x="1878.0" y="721.3" width="267.2" height="12" fill="#EDB120" opacity="0.33"/>
<g filter="url(#soft)" opacity="0.92"><path d="M838.7,727.3h11.8M842.4,727.3h11.8M846.1,727.3h11.8M849.8,727.3h11.8M853.5,727.3h11.8M857.2,727.3h11.8M860.9,727.3h11.8M864.6,727.3h11.8M868.3,727.3h11.8M872.0,727.3h11.8M875.7,727.3h11.8M879.4,727.3h11.8M883.1,727.3h11.8M886.8,727.3h11.8M890.5,727.3h11.8M894.2,727.3h11.8M897.9,727.3h11.8M901.6,727.3h11.8M905.3,727.3h11.8M909.0,727.3h11.8M912.7,727.3h11.8M916.4,727.3h11.8M920.1,727.3h11.8M923.8,727.3h11.8M927.5,727.3h11.8M931.2,727.3h11.8M934.9,727.3h11.8M938.6,727.3h11.8M942.3,727.3h11.8M946.0,727.3h11.8M949.7,727.3h11.8M953.4,727.3h11.8M957.1,727.3h11.8M960.8,727.3h11.8M964.5,727.3h11.8M968.2,727.3h11.8M971.9,727.3h11.8M975.6,727.3h11.8M979.3,727.3h11.8M983.0,727.3h11.8M986.7,727.3h11.8M990.4,727.3h11.8M994.0,727.3h11.8M997.7,727.3h11.8M1001.4,727.3h11.8M1005.1,727.3h11.8M1008.8,727.3h11.8M1012.5,727.3h11.8M1016.2,727.3h11.8M1019.9,727.3h11.8M1023.6,727.3h11.8M1027.3,727.3h11.8M1031.0,727.3h11.8M1034.7,727.3h11.8M1038.4,727.3h11.8M1042.1,727.3h11.8M1045.8,727.3h11.8M1049.5,727.3h11.8M1053.2,727.3h11.8M1056.9,727.3h11.8M1060.6,727.3h11.8M1064.3,727.3h11.8M1068.0,727.3h11.8M1071.7,727.3h11.8M1075.4,727.3h11.8M1079.1,727.3h11.8M1082.8,727.3h11.8M1086.5,727.3h11.8M1090.2,727.3h11.8M1093.9,727.3h11.8M1097.6,727.3h11.8M1101.3,727.3h11.8M1105.0,727.3h11.8M1108.7,727.3h11.8M1112.4,727.3h11.8M1116.1,727.3h11.8M1119.8,727.3h11.8M1123.5,727.3h11.8M1127.2,727.3h11.8M1130.9,727.3h11.8M1134.6,727.3h11.8M1138.3,727.3h11.8M1142.0,727.3h11.8M1145.7,727.3h11.8M1149.4,727.3h11.8M1153.1,727.3h11.8M1156.8,727.3h11.8M1160.5,727.3h11.8M1164.2,727.3h11.8M1167.9,727.3h11.8M1171.6,727.3h11.8M1175.3,727.3h11.8M1179.0,727.3h11.8M1182.7,727.3h11.8M1186.4,727.3h11.8M1190.1,727.3h11.8M1193.8,727.3h11.8M1197.5,727.3h11.8M1201.2,727.3h11.8M1204.9,727.3h11.8M1208.6,727.3h11.8M1212.3,727.3h11.8M1216.0,727.3h11.8M1219.7,727.3h11.8M1223.4,727.3h11.8M1227.1,727.3h11.8M1230.8,727.3h11.8M1234.5,727.3h11.8M1238.2,727.3h11.8M1241.9,727.3h11.8M1245.6,727.3h11.8M1249.3,727.3h11.8M1253.0,727.3h11.8M1256.7,727.3h11.8M1260.4,727.3h11.8M1264.1,727.3h11.8M1267.8,727.3h11.8M1271.5,727.3h11.8M1275.2,727.3h11.8M1278.9,727.3h11.8M1282.6,727.3h11.8M1286.3,727.3h11.8M1290.0,727.3h11.8M1293.7,727.3h11.8M1297.4,727.3h11.8M1301.0,727.3h11.8M1304.7,727.3h11.8M1308.4,727.3h11.8M1312.1,727.3h11.8M1315.8,727.3h11.8M1319.5,727.3h11.8M1323.2,727.3h11.8M1326.9,727.2h11.8M1330.6,727.2h11.8M1334.3,727.2h11.8M1338.0,727.2h11.8M1341.7,727.2h11.8M1345.4,727.1h11.8M1349.1,727.1h11.8M1352.8,727.0h11.8M1356.5,727.0h11.8M1360.2,726.9h11.8M1363.9,726.8h11.8M1367.6,726.7h11.8M1371.3,726.6h11.8M1375.0,726.5h11.8M1378.7,726.3h11.8M1382.4,726.1h11.8M1386.1,725.9h11.8M1389.8,725.7h11.8M1393.5,725.3h11.8M1397.2,725.0h11.8M1400.9,724.6h11.8M1404.6,724.1h11.8M1408.3,723.5h11.8M1412.0,722.9h11.8M1415.7,722.2h11.8M1419.4,721.3h11.8M1423.1,720.3h11.8M1426.8,719.2h11.8M1430.5,718.0h11.8M1434.2,716.5h11.8M1437.9,714.9h11.8M1441.6,713.1h11.8M1445.3,711.1h11.8M1449.0,708.8h11.8M1452.7,706.2h11.8M1456.4,703.4h11.8M1460.1,700.2h11.8M1463.8,696.7h11.8M1467.5,692.9h11.8M1471.2,688.6h11.8M1474.9,683.9h11.8M1478.6,678.8h11.8M1482.3,673.2h11.8M1486.0,667.2h11.8M1489.7,660.6h11.8M1493.4,653.5h11.8M1497.1,645.9h11.8M1500.8,637.7h11.8M1504.5,628.9h11.8M1508.2,619.5h11.8M1511.9,609.6h11.8M1515.6,599.0h11.8M1519.3,587.9h11.8M1523.0,576.2h11.8M1526.7,563.9h11.8M1530.4,551.1h11.8M1534.1,537.7h11.8M1537.8,523.9h11.8M1541.5,509.6h11.8M1545.2,494.9h11.8M1548.9,479.8h11.8M1552.6,464.5h11.8M1556.3,448.9h11.8M1560.0,433.1h11.8M1563.7,417.3h11.8M1567.4,401.4h11.8M1571.1,385.6h11.8M1574.8,369.9h11.8M1578.5,354.5h11.8M1582.2,339.4h11.8M1585.9,324.7h11.8M1589.6,310.6h11.8M1593.3,297.0h11.8M1597.0,284.2h11.8M1600.7,272.1h11.8M1604.4,260.9h11.8M1608.1,250.6h11.8M1611.7,241.4h11.8M1615.4,233.2h11.8M1619.1,226.2h11.8M1622.8,220.4h11.8M1626.5,215.8h11.8M1630.2,212.5h11.8M1633.9,210.6h11.8M1637.6,209.9h11.8M1641.3,210.6h11.8M1645.0,212.5h11.8M1648.7,215.8h11.8M1652.4,220.4h11.8M1656.1,226.2h11.8M1659.8,233.2h11.8M1663.5,241.4h11.8M1667.2,250.6h11.8M1670.9,260.9h11.8M1674.6,272.1h11.8M1678.3,284.2h11.8M1682.0,297.0h11.8M1685.7,310.6h11.8M1689.4,324.7h11.8M1693.1,339.4h11.8M1696.8,354.5h11.8M1700.5,369.9h11.8M1704.2,385.6h11.8M1707.9,401.4h11.8M1711.6,417.3h11.8M1715.3,433.1h11.8M1719.0,448.9h11.8M1722.7,464.5h11.8M1726.4,479.8h11.8M1730.1,494.9h11.8M1733.8,509.6h11.8M1737.5,523.9h11.8M1741.2,537.7h11.8M1744.9,551.1h11.8M1748.6,563.9h11.8M1752.3,576.2h11.8M1756.0,587.9h11.8M1759.7,599.0h11.8M1763.4,609.6h11.8M1767.1,619.5h11.8M1770.8,628.9h11.8M1774.5,637.7h11.8M1778.2,645.9h11.8M1781.9,653.5h11.8M1785.6,660.6h11.8M1789.3,667.2h11.8M1793.0,673.2h11.8M1796.7,678.8h11.8M1800.4,683.9h11.8M1804.1,688.6h11.8M1807.8,692.9h11.8M1811.5,696.7h11.8M1815.2,700.2h11.8M1818.9,703.4h11.8M1822.6,706.2h11.8M1826.3,708.8h11.8M1830.0,711.1h11.8M1833.7,713.1h11.8M1837.4,714.9h11.8M1841.1,716.5h11.8M1844.8,718.0h11.8M1848.5,719.2h11.8M1852.2,720.3h11.8M1855.9,721.3h11.8M1859.6,722.2h11.8M1863.3,722.9h11.8M1867.0,723.5h11.8M1870.7,724.1h11.8M1874.4,724.6h11.8M1878.1,725.0h11.8M1881.8,725.3h11.8M1885.5,725.7h11.8M1889.2,725.9h11.8M1892.9,726.1h11.8M1896.6,726.3h11.8M1900.3,726.5h11.8M1904.0,726.6h11.8M1907.7,726.7h11.8M1911.4,726.8h11.8M1915.1,726.9h11.8M1918.7,727.0h11.8M1922.4,727.0h11.8M1926.1,727.1h11.8M1929.8,727.1h11.8M1933.5,727.2h11.8M1937.2,727.2h11.8M1940.9,727.2h11.8M1944.6,727.2h11.8M1948.3,727.2h11.8M1952.0,727.3h11.8M1955.7,727.3h11.8M1959.4,727.3h11.8M1963.1,727.3h11.8M1966.8,727.3h11.8M1970.5,727.3h11.8M1974.2,727.3h11.8M1977.9,727.3h11.8M1981.6,727.3h11.8M1985.3,727.3h11.8M1989.0,727.3h11.8M1992.7,727.3h11.8M1996.4,727.3h11.8M2000.1,727.3h11.8M2003.8,727.3h11.8M2007.5,727.3h11.8M2011.2,727.3h11.8M2014.9,727.3h11.8M2018.6,727.3h11.8M2022.3,727.3h11.8M2026.0,727.3h11.8M2029.7,727.3h11.8M2033.4,727.3h11.8M2037.1,727.3h11.8M2040.8,727.3h11.8M2044.5,727.3h11.8M2048.2,727.3h11.8M2051.9,727.3h11.8M2055.6,727.3h11.8M2059.3,727.3h11.8M2063.0,727.3h11.8M2066.7,727.3h11.8M2070.4,727.3h11.8M2074.1,727.3h11.8M2077.8,727.3h11.8M2081.5,727.3h11.8M2085.2,727.3h11.8M2088.9,727.3h11.8M2092.6,727.3h11.8M2096.3,727.3h11.8M2100.0,727.3h11.8M2103.7,727.3h11.8M2107.4,727.3h11.8M2111.1,727.3h11.8M2114.8,727.3h11.8M2118.5,727.3h11.8M2122.2,727.3h11.8M2125.9,727.3h11.8M2129.6,727.3h11.8M2133.3,727.3h11.8" stroke="#EDB120" stroke-width="2.2" fill="none"/><path d="M844.6,721.3v12M848.3,721.3v12M852.0,721.3v12M855.7,721.3v12M859.4,721.3v12M863.1,721.3v12M866.8,721.3v12M870.5,721.3v12M874.2,721.3v12M877.9,721.3v12M881.6,721.3v12M885.3,721.3v12M889.0,721.3v12M892.7,721.3v12M896.4,721.3v12M900.1,721.3v12M903.8,721.3v12M907.5,721.3v12M911.2,721.3v12M914.9,721.3v12M918.6,721.3v12M922.3,721.3v12M926.0,721.3v12M929.7,721.3v12M933.4,721.3v12M937.1,721.3v12M940.8,721.3v12M944.5,721.3v12M948.2,721.3v12M951.9,721.3v12M955.6,721.3v12M959.3,721.3v12M963.0,721.3v12M966.7,721.3v12M970.4,721.3v12M974.1,721.3v12M977.8,721.3v12M981.5,721.3v12M985.2,721.3v12M988.9,721.3v12M992.6,721.3v12M996.3,721.3v12M999.9,721.3v12M1003.6,721.3v12M1007.3,721.3v12M1011.0,721.3v12M1014.7,721.3v12M1018.4,721.3v12M1022.1,721.3v12M1025.8,721.3v12M1029.5,721.3v12M1033.2,721.3v12M1036.9,721.3v12M1040.6,721.3v12M1044.3,721.3v12M1048.0,721.3v12M1051.7,721.3v12M1055.4,721.3v12M1059.1,721.3v12M1062.8,721.3v12M1066.5,721.3v12M1070.2,721.3v12M1073.9,721.3v12M1077.6,721.3v12M1081.3,721.3v12M1085.0,721.3v12M1088.7,721.3v12M1092.4,721.3v12M1096.1,721.3v12M1099.8,721.3v12M1103.5,721.3v12M1107.2,721.3v12M1110.9,721.3v12M1114.6,721.3v12M1118.3,721.3v12M1122.0,721.3v12M1125.7,721.3v12M1129.4,721.3v12M1133.1,721.3v12M1136.8,721.3v12M1140.5,721.3v12M1144.2,721.3v12M1147.9,721.3v12M1151.6,721.3v12M1155.3,721.3v12M1159.0,721.3v12M1162.7,721.3v12M1166.4,721.3v12M1170.1,721.3v12M1173.8,721.3v12M1177.5,721.3v12M1181.2,721.3v12M1184.9,721.3v12M1188.6,721.3v12M1192.3,721.3v12M1196.0,721.3v12M1199.7,721.3v12M1203.4,721.3v12M1207.1,721.3v12M1210.8,721.3v12M1214.5,721.3v12M1218.2,721.3v12M1221.9,721.3v12M1225.6,721.3v12M1229.3,721.3v12M1233.0,721.3v12M1236.7,721.3v12M1240.4,721.3v12M1244.1,721.3v12M1247.8,721.3v12M1251.5,721.3v12M1255.2,721.3v12M1258.9,721.3v12M1262.6,721.3v12M1266.3,721.3v12M1270.0,721.3v12M1273.7,721.3v12M1277.4,721.3v12M1281.1,721.3v12M1284.8,721.3v12M1288.5,721.3v12M1292.2,721.3v12M1295.9,721.3v12M1299.6,721.3v12M1303.3,721.3v12M1307.0,721.3v12M1310.6,721.3v12M1314.3,721.3v12M1318.0,721.3v12M1321.7,721.3v12M1325.4,721.3v12M1329.1,721.3v12M1332.8,721.2v12M1336.5,721.2v12M1340.2,721.2v12M1343.9,721.2v12M1347.6,721.2v12M1351.3,721.1v12M1355.0,721.1v12M1358.7,721.0v12M1362.4,721.0v12M1366.1,720.9v12M1369.8,720.8v12M1373.5,720.7v12M1377.2,720.6v12M1380.9,720.5v12M1384.6,720.3v12M1388.3,720.1v12M1392.0,719.9v12M1395.7,719.7v12M1399.4,719.3v12M1403.1,719.0v12M1406.8,718.6v12M1410.5,718.1v12M1414.2,717.5v12M1417.9,716.9v12M1421.6,716.2v12M1425.3,715.3v12M1429.0,714.3v12M1432.7,713.2v12M1436.4,712.0v12M1440.1,710.5v12M1443.8,708.9v12M1447.5,707.1v12M1451.2,705.1v12M1454.9,702.8v12M1458.6,700.2v12M1462.3,697.4v12M1466.0,694.2v12M1469.7,690.7v12M1473.4,686.9v12M1477.1,682.6v12M1480.8,677.9v12M1484.5,672.8v12M1488.2,667.2v12M1491.9,661.2v12M1495.6,654.6v12M1499.3,647.5v12M1503.0,639.9v12M1506.7,631.7v12M1510.4,622.9v12M1514.1,613.5v12M1517.8,603.6v12M1521.5,593.0v12M1525.2,581.9v12M1528.9,570.2v12M1532.6,557.9v12M1536.3,545.1v12M1540.0,531.7v12M1543.7,517.9v12M1547.4,503.6v12M1551.1,488.9v12M1554.8,473.8v12M1558.5,458.5v12M1562.2,442.9v12M1565.9,427.1v12M1569.6,411.3v12M1573.3,395.4v12M1577.0,379.6v12M1580.7,363.9v12M1584.4,348.5v12M1588.1,333.4v12M1591.8,318.7v12M1595.5,304.6v12M1599.2,291.0v12M1602.9,278.2v12M1606.6,266.1v12M1610.3,254.9v12M1614.0,244.6v12M1617.6,235.4v12M1621.3,227.2v12M1625.0,220.2v12M1628.7,214.4v12M1632.4,209.8v12M1636.1,206.5v12M1639.8,204.6v12M1643.5,203.9v12M1647.2,204.6v12M1650.9,206.5v12M1654.6,209.8v12M1658.3,214.4v12M1662.0,220.2v12M1665.7,227.2v12M1669.4,235.4v12M1673.1,244.6v12M1676.8,254.9v12M1680.5,266.1v12M1684.2,278.2v12M1687.9,291.0v12M1691.6,304.6v12M1695.3,318.7v12M1699.0,333.4v12M1702.7,348.5v12M1706.4,363.9v12M1710.1,379.6v12M1713.8,395.4v12M1717.5,411.3v12M1721.2,427.1v12M1724.9,442.9v12M1728.6,458.5v12M1732.3,473.8v12M1736.0,488.9v12M1739.7,503.6v12M1743.4,517.9v12M1747.1,531.7v12M1750.8,545.1v12M1754.5,557.9v12M1758.2,570.2v12M1761.9,581.9v12M1765.6,593.0v12M1769.3,603.6v12M1773.0,613.5v12M1776.7,622.9v12M1780.4,631.7v12M1784.1,639.9v12M1787.8,647.5v12M1791.5,654.6v12M1795.2,661.2v12M1798.9,667.2v12M1802.6,672.8v12M1806.3,677.9v12M1810.0,682.6v12M1813.7,686.9v12M1817.4,690.7v12M1821.1,694.2v12M1824.8,697.4v12M1828.5,700.2v12M1832.2,702.8v12M1835.9,705.1v12M1839.6,707.1v12M1843.3,708.9v12M1847.0,710.5v12M1850.7,712.0v12M1854.4,713.2v12M1858.1,714.3v12M1861.8,715.3v12M1865.5,716.2v12M1869.2,716.9v12M1872.9,717.5v12M1876.6,718.1v12M1880.3,718.6v12M1884.0,719.0v12M1887.7,719.3v12M1891.4,719.7v12M1895.1,719.9v12M1898.8,720.1v12M1902.5,720.3v12M1906.2,720.5v12M1909.9,720.6v12M1913.6,720.7v12M1917.3,720.8v12M1921.0,720.9v12M1924.6,721.0v12M1928.3,721.0v12M1932.0,721.1v12M1935.7,721.1v12M1939.4,721.2v12M1943.1,721.2v12M1946.8,721.2v12M1950.5,721.2v12M1954.2,721.2v12M1957.9,721.3v12M1961.6,721.3v12M1965.3,721.3v12M1969.0,721.3v12M1972.7,721.3v12M1976.4,721.3v12M1980.1,721.3v12M1983.8,721.3v12M1987.5,721.3v12M1991.2,721.3v12M1994.9,721.3v12M1998.6,721.3v12M2002.3,721.3v12M2006.0,721.3v12M2009.7,721.3v12M2013.4,721.3v12M2017.1,721.3v12M2020.8,721.3v12M2024.5,721.3v12M2028.2,721.3v12M2031.9,721.3v12M2035.6,721.3v12M2039.3,721.3v12M2043.0,721.3v12M2046.7,721.3v12M2050.4,721.3v12M2054.1,721.3v12M2057.8,721.3v12M2061.5,721.3v12M2065.2,721.3v12M2068.9,721.3v12M2072.6,721.3v12M2076.3,721.3v12M2080.0,721.3v12M2083.7,721.3v12M2087.4,721.3v12M2091.1,721.3v12M2094.8,721.3v12M2098.5,721.3v12M2102.2,721.3v12M2105.9,721.3v12M2109.6,721.3v12M2113.3,721.3v12M2117.0,721.3v12M2120.7,721.3v12M2124.4,721.3v12M2128.1,721.3v12M2131.8,721.3v12M2135.5,721.3v12M2139.2,721.3v12" stroke="#EDB120" stroke-width="1.8" fill="none"/></g>
<line x1="1111.5" y1="201.2" x2="1415.0" y2="201.2" stroke="#222" stroke-width="2" />
<line x1="1643.0" y1="203.7" x2="1921.0" y2="203.7" stroke="#777" stroke-width="3" />
<line x1="1140.5" y1="225.0" x2="1140.5" y2="702.0" stroke="#777" stroke-width="3.2" />
<polygon points="1140.5,202.3 1149.5,227.3 1131.5,227.3" fill="#000"/>
<polygon points="1140.5,724.3 1131.5,699.3 1149.5,699.3" fill="#000"/>
<line x1="1904.0" y1="228.0" x2="1904.0" y2="702.0" stroke="#111" stroke-width="2" />
<polygon points="1904.0,206.3 1912.5,230.3 1895.5,230.3" fill="#000"/>
<polygon points="1904.0,724.5 1895.5,700.5 1912.5,700.5" fill="#000"/>
<line x1="1108.0" y1="285.5" x2="1330.7" y2="480.8" stroke="#262626" stroke-width="1.5" />
<polygon points="1097.0,276.0 1121.7,285.7 1109.9,299.2" fill="#000"/>
<line x1="1416" y1="197" x2="1414.5" y2="727" stroke="#1fae5c" stroke-width="3" stroke-dasharray="47.5 26"/>
<line x1="1647.4" y1="212" x2="1650.7" y2="705" stroke="#1fae5c" stroke-width="3" stroke-dasharray="47.8 25.8"/>
<line x1="1304.7" y1="478" x2="1540" y2="478" stroke="#7E2F8E" stroke-width="3.2" stroke-dasharray="24 12.8"/>
<line x1="1546" y1="481" x2="1727" y2="481" stroke="#7E2F8E" stroke-width="3.2" stroke-dasharray="24 12.8"/>
<line x1="1540.1" y1="448.0" x2="1540.1" y2="727.0" stroke="#ff4b4b" stroke-width="2" />
<path d="M1236.8,727.3 C1236.9,726.5 1236.7,728.6 1237.6,722.5 C1238.5,716.4 1240.6,702.4 1242.4,690.6 C1244.2,678.8 1246.6,663.1 1248.2,651.8 C1249.8,640.5 1250.6,634.1 1252.1,622.8 C1253.6,611.5 1255.2,598.5 1257.0,584.0 C1258.8,569.5 1261.2,548.5 1262.8,535.6 C1264.4,522.7 1265.3,517.8 1266.6,506.5 C1267.9,495.2 1269.4,480.4 1270.5,467.8 C1271.6,455.2 1272.4,439.6 1273.4,431.0 C1274.4,422.4 1275.3,419.1 1276.3,416.5 C1277.3,413.9 1277.9,415.0 1279.2,415.5 C1280.5,416.0 1282.8,419.7 1284.1,419.4 C1285.4,419.1 1286.1,417.2 1287.0,413.6 C1287.9,410.0 1288.4,405.9 1289.6,398.0 C1290.8,390.1 1292.3,373.1 1294.0,366.3 C1295.7,359.6 1298.0,357.5 1299.9,357.5 C1301.9,357.5 1303.8,359.0 1305.7,366.3 C1307.7,373.6 1310.1,393.9 1311.6,401.5 C1313.1,409.1 1313.3,414.2 1314.5,411.8 C1315.7,409.4 1317.4,398.3 1318.9,386.8 C1320.4,375.3 1321.6,358.5 1323.3,342.8 C1325.0,327.1 1327.2,307.3 1329.2,292.9 C1331.2,278.5 1333.4,263.1 1335.1,256.2 C1336.8,249.3 1337.8,251.0 1339.5,251.7 C1341.2,252.4 1343.5,256.2 1345.4,260.6 C1347.4,265.0 1349.0,272.8 1351.2,278.2 C1353.4,283.6 1356.1,292.2 1358.6,292.9 C1361.0,293.6 1364.0,282.1 1365.9,282.6 C1367.9,283.1 1368.8,286.2 1370.3,295.8 C1371.8,305.4 1373.5,329.1 1374.7,339.9 C1375.9,350.7 1376.5,362.4 1377.7,360.4 C1378.9,358.4 1380.4,340.5 1382.1,328.1 C1383.8,315.7 1385.8,295.6 1388.0,285.9 C1390.2,276.2 1392.8,270.9 1395.0,269.9 C1397.2,268.9 1399.2,273.6 1401.0,279.9 C1402.8,286.2 1404.3,297.8 1406.0,307.8 C1407.7,317.8 1409.5,330.6 1411.0,339.8 C1412.5,349.0 1413.7,363.5 1415.0,362.8 C1416.3,362.1 1417.7,347.6 1419.0,335.8 C1420.3,324.0 1421.5,303.9 1423.0,291.9 C1424.5,279.9 1426.5,266.9 1428.0,263.9 C1429.5,260.9 1430.8,271.2 1432.0,273.9 C1433.2,276.6 1433.7,278.6 1435.0,279.9 C1436.3,281.2 1438.5,279.9 1440.0,281.9 C1441.5,283.9 1442.7,284.9 1444.0,291.9 C1445.3,298.9 1446.7,310.8 1448.0,323.8 C1449.3,336.8 1450.8,357.2 1452.0,369.8 C1453.2,382.4 1453.8,396.4 1455.0,399.7 C1456.2,403.0 1457.5,398.0 1459.0,389.7 C1460.5,381.4 1462.3,364.8 1464.0,349.8 C1465.7,334.8 1467.5,311.0 1469.0,299.9 C1470.5,288.8 1471.5,284.2 1473.0,282.9 C1474.5,281.6 1476.5,287.1 1478.0,291.9 C1479.5,296.7 1480.7,301.1 1482.0,311.8 C1483.3,322.5 1484.5,339.5 1486.0,355.8 C1487.5,372.1 1489.5,397.7 1491.0,409.7 C1492.5,421.7 1493.5,426.7 1495.0,427.7 C1496.5,428.7 1498.2,420.0 1500.0,415.7 C1501.8,411.4 1504.0,401.0 1506.0,401.7 C1508.0,402.4 1509.7,412.4 1512.0,419.7 C1514.3,427.0 1517.3,438.4 1520.0,445.7 C1522.7,453.0 1525.7,459.0 1528.0,463.7 C1530.3,468.4 1532.3,469.0 1534.0,473.6 C1535.7,478.2 1536.7,486.6 1538.0,491.6 C1539.3,496.6 1540.7,502.3 1542.0,503.6 C1543.3,504.9 1544.7,503.3 1546.0,499.6 C1547.3,495.9 1547.8,487.7 1550.0,481.6 C1552.2,475.5 1555.8,471.5 1559.2,462.9 C1562.7,454.3 1567.1,441.5 1570.7,430.0 C1574.3,418.5 1577.8,404.2 1580.6,393.8 C1583.3,383.4 1585.3,378.5 1587.2,367.5 C1589.1,356.5 1590.7,340.1 1592.1,328.0 C1593.5,315.9 1594.0,303.3 1595.4,295.1 C1596.8,286.9 1598.1,282.2 1600.3,278.7 C1602.5,275.1 1605.8,274.6 1608.6,273.8 C1611.3,273.0 1614.6,276.3 1616.8,273.8 C1619.0,271.3 1620.1,264.1 1621.7,258.9 C1623.3,253.7 1624.9,246.1 1626.6,242.5 C1628.2,238.9 1629.7,237.3 1631.6,237.6 C1633.5,237.9 1636.6,242.5 1638.2,244.1 C1639.8,245.7 1640.0,248.2 1641.4,247.4 C1642.8,246.6 1645.0,241.4 1646.4,239.2 C1647.8,237.0 1648.3,232.1 1649.7,234.3 C1651.1,236.5 1652.7,242.3 1654.6,252.4 C1656.5,262.5 1659.3,286.6 1661.2,295.1 C1663.1,303.6 1664.4,299.5 1666.1,303.4 C1667.8,307.2 1669.2,313.3 1671.1,318.2 C1673.0,323.1 1675.7,331.9 1677.6,333.0 C1679.5,334.1 1680.7,332.1 1682.6,324.7 C1684.5,317.3 1686.6,299.0 1689.1,288.6 C1691.6,278.2 1694.9,266.9 1697.4,262.2 C1699.9,257.5 1701.7,260.1 1703.9,260.6 C1706.1,261.2 1708.3,266.3 1710.5,265.5 C1712.7,264.7 1714.6,259.3 1717.1,255.7 C1719.6,252.1 1723.1,248.5 1725.3,244.1 C1727.5,239.7 1728.6,233.4 1730.3,229.3 C1732.0,225.2 1733.6,219.8 1735.2,219.5 C1736.8,219.2 1738.4,220.6 1740.1,227.7 C1741.8,234.8 1743.4,251.0 1745.1,262.2 C1746.8,273.4 1748.3,290.7 1750.0,295.1 C1751.7,299.5 1753.1,291.9 1755.0,288.6 C1756.9,285.3 1759.6,275.4 1761.5,275.4 C1763.4,275.4 1765.0,281.5 1766.4,288.6 C1767.8,295.7 1768.3,302.3 1769.7,318.2 C1771.1,334.1 1772.8,362.1 1774.7,384.0 C1776.6,405.9 1779.4,431.6 1781.3,449.7 C1783.2,467.8 1784.3,474.4 1786.2,492.5 C1788.1,510.6 1790.9,539.1 1792.8,558.3 C1794.7,577.5 1796.1,591.1 1797.7,607.6 C1799.3,624.1 1800.9,641.6 1802.6,657.0 C1804.2,672.4 1806.2,688.0 1807.6,699.7 C1809.0,711.4 1810.4,722.7 1810.9,727.3" fill="none" stroke="#1c1c1c" stroke-width="1.8" stroke-linejoin="round"/>
<path d="M1213,735.8h11M1218.5,730.5v11" stroke="#D95319" stroke-width="1.7" opacity="0.85"/>
<rect x="1972.2" y="151.4" width="155.70000000000005" height="128.20000000000002" fill="#fff" stroke="#6e6e6e" stroke-width="2.6"/>
<line x1="1976.3" y1="162.0" x2="2023.1" y2="162.0" stroke="#111" stroke-width="2" />
<text x="2024.4" y="182.9" font-size="38.5" fill="#000" textLength="31.0" lengthAdjust="spacingAndGlyphs">H</text>
<path d="M1982.3,206h11M1987.8,200.5v11" stroke="#D95319" stroke-width="1.8" opacity="0.85"/>
<path d="M1982.3,242.8h11M1987.8,237.3v11" stroke="#EDB120" stroke-width="1.8" opacity="0.85"/>
<text x="2006.5" y="217.6" font-size="38.5" fill="#000" textLength="120.0" lengthAdjust="spacingAndGlyphs">Gauss1</text>
<text x="2006.5" y="258.4" font-size="38.5" fill="#000" textLength="122.0" lengthAdjust="spacingAndGlyphs">Gauss2</text>
<text x="1056.5" y="282.7" font-size="40" fill="#000" textLength="26.0" lengthAdjust="spacingAndGlyphs">σ</text>
<text x="1082.0" y="290.5" font-size="31" fill="#000" textLength="13.0" lengthAdjust="spacingAndGlyphs">1</text>
<text x="1033.0" y="527.1" font-size="45" fill="#000" textLength="55.0" lengthAdjust="spacingAndGlyphs">f(μ</text>
<text x="1088.5" y="532.0" font-size="28" fill="#000" textLength="16.0" lengthAdjust="spacingAndGlyphs">1</text>
<text x="1105.5" y="527.1" font-size="45" fill="#000" textLength="14.0" lengthAdjust="spacingAndGlyphs">)</text>
<text x="1399.3" y="802.0" font-size="48" fill="#000" textLength="31.0" lengthAdjust="spacingAndGlyphs">μ</text>
<text x="1429.5" y="802.0" font-size="29" fill="#000" textLength="19.0" lengthAdjust="spacingAndGlyphs">1</text>
<text x="1507.3" y="800.4" font-size="52.8" fill="#000" textLength="56.3" lengthAdjust="spacingAndGlyphs">T1</text>
<text x="1636.0" y="802.0" font-size="48" fill="#000" textLength="31.0" lengthAdjust="spacingAndGlyphs">μ</text>
<text x="1667.5" y="802.0" font-size="29" fill="#000" textLength="17.5" lengthAdjust="spacingAndGlyphs">2</text>
<text x="1367.0" y="876.2" font-size="47.5" fill="#000" textLength="342.6" lengthAdjust="spacingAndGlyphs">Pixel row count</text>
<text x="0.0" y="0.0" font-size="50" fill="#000" textLength="379.7" lengthAdjust="spacingAndGlyphs" transform="translate(784.5,632.8) rotate(-90)">Number of pixels</text>
<line x1="836.8" y1="947.3" x2="2145.0" y2="947.3" stroke="#5a5a5a" stroke-width="2.2" />
<line x1="836.8" y1="1541.3" x2="2145.0" y2="1541.3" stroke="#7f7f7f" stroke-width="2.8" />
<line x1="836.8" y1="947.3" x2="836.8" y2="1541.3" stroke="#555" stroke-width="2.2" />
<line x1="2145.0" y1="947.3" x2="2145.0" y2="1541.3" stroke="#3a3a3a" stroke-width="2" />
<line x1="1023.7" y1="947.3" x2="1023.7" y2="961.3" stroke="#777" stroke-width="1.6" />
<line x1="1023.7" y1="1541.3" x2="1023.7" y2="1527.3" stroke="#555" stroke-width="1.5" />
<line x1="1210.6" y1="947.3" x2="1210.6" y2="961.3" stroke="#777" stroke-width="1.6" />
<line x1="1210.6" y1="1541.3" x2="1210.6" y2="1527.3" stroke="#555" stroke-width="1.5" />
<line x1="1397.4" y1="947.3" x2="1397.4" y2="961.3" stroke="#777" stroke-width="1.6" />
<line x1="1397.4" y1="1541.3" x2="1397.4" y2="1527.3" stroke="#555" stroke-width="1.5" />
<line x1="1584.3" y1="947.3" x2="1584.3" y2="961.3" stroke="#777" stroke-width="1.6" />
<line x1="1584.3" y1="1541.3" x2="1584.3" y2="1527.3" stroke="#555" stroke-width="1.5" />
<line x1="1771.2" y1="947.3" x2="1771.2" y2="961.3" stroke="#777" stroke-width="1.6" />
<line x1="1771.2" y1="1541.3" x2="1771.2" y2="1527.3" stroke="#555" stroke-width="1.5" />
<line x1="1958.1" y1="947.3" x2="1958.1" y2="961.3" stroke="#777" stroke-width="1.6" />
<line x1="1958.1" y1="1541.3" x2="1958.1" y2="1527.3" stroke="#555" stroke-width="1.5" />
<line x1="836.8" y1="1475.3" x2="849.8" y2="1475.3" stroke="#3c3c3c" stroke-width="2.6" />
<line x1="2145.0" y1="1475.3" x2="2132.0" y2="1475.3" stroke="#3c3c3c" stroke-width="2.6" />
<line x1="836.8" y1="1409.3" x2="849.8" y2="1409.3" stroke="#3c3c3c" stroke-width="2.6" />
<line x1="2145.0" y1="1409.3" x2="2132.0" y2="1409.3" stroke="#3c3c3c" stroke-width="2.6" />
<line x1="836.8" y1="1343.3" x2="849.8" y2="1343.3" stroke="#3c3c3c" stroke-width="2.6" />
<line x1="2145.0" y1="1343.3" x2="2132.0" y2="1343.3" stroke="#3c3c3c" stroke-width="2.6" />
<line x1="836.8" y1="1277.3" x2="849.8" y2="1277.3" stroke="#3c3c3c" stroke-width="2.6" />
<line x1="2145.0" y1="1277.3" x2="2132.0" y2="1277.3" stroke="#3c3c3c" stroke-width="2.6" />
<line x1="836.8" y1="1211.3" x2="849.8" y2="1211.3" stroke="#3c3c3c" stroke-width="2.6" />
<line x1="2145.0" y1="1211.3" x2="2132.0" y2="1211.3" stroke="#3c3c3c" stroke-width="2.6" />
<line x1="836.8" y1="1145.3" x2="849.8" y2="1145.3" stroke="#3c3c3c" stroke-width="2.6" />
<line x1="2145.0" y1="1145.3" x2="2132.0" y2="1145.3" stroke="#3c3c3c" stroke-width="2.6" />
<line x1="836.8" y1="1079.3" x2="849.8" y2="1079.3" stroke="#3c3c3c" stroke-width="2.6" />
<line x1="2145.0" y1="1079.3" x2="2132.0" y2="1079.3" stroke="#3c3c3c" stroke-width="2.6" />
<line x1="836.8" y1="1013.3" x2="849.8" y2="1013.3" stroke="#3c3c3c" stroke-width="2.6" />
<line x1="2145.0" y1="1013.3" x2="2132.0" y2="1013.3" stroke="#3c3c3c" stroke-width="2.6" />
<text x="819.5" y="1553.6" font-size="31.5" fill="#333" textLength="15.0" lengthAdjust="spacingAndGlyphs">0</text>
<text x="804.5" y="1487.6" font-size="31.5" fill="#333" textLength="30.0" lengthAdjust="spacingAndGlyphs">10</text>
<text x="804.5" y="1421.6" font-size="31.5" fill="#333" textLength="30.0" lengthAdjust="spacingAndGlyphs">20</text>
<text x="804.5" y="1355.6" font-size="31.5" fill="#333" textLength="30.0" lengthAdjust="spacingAndGlyphs">30</text>
<text x="804.5" y="1289.6" font-size="31.5" fill="#333" textLength="30.0" lengthAdjust="spacingAndGlyphs">40</text>
<text x="804.5" y="1223.6" font-size="31.5" fill="#333" textLength="30.0" lengthAdjust="spacingAndGlyphs">50</text>
<text x="804.5" y="1157.6" font-size="31.5" fill="#333" textLength="30.0" lengthAdjust="spacingAndGlyphs">60</text>
<text x="804.5" y="1091.6" font-size="31.5" fill="#333" textLength="30.0" lengthAdjust="spacingAndGlyphs">70</text>
<text x="804.5" y="1025.6" font-size="31.5" fill="#333" textLength="30.0" lengthAdjust="spacingAndGlyphs">80</text>
<text x="804.5" y="959.6" font-size="31.5" fill="#333" textLength="30.0" lengthAdjust="spacingAndGlyphs">90</text>
<text x="823.0" y="1578.3" font-size="31.5" fill="#333" textLength="43.5" lengthAdjust="spacingAndGlyphs">200</text>
<text x="1008.2" y="1578.3" font-size="31.5" fill="#333" textLength="43.5" lengthAdjust="spacingAndGlyphs">250</text>
<text x="1194.3" y="1578.3" font-size="31.5" fill="#333" textLength="43.5" lengthAdjust="spacingAndGlyphs">300</text>
<text x="1382.3" y="1578.3" font-size="31.5" fill="#333" textLength="43.5" lengthAdjust="spacingAndGlyphs">350</text>
<text x="1568.4" y="1578.3" font-size="31.5" fill="#333" textLength="43.5" lengthAdjust="spacingAndGlyphs">400</text>
<text x="1757.8" y="1578.3" font-size="31.5" fill="#333" textLength="43.5" lengthAdjust="spacingAndGlyphs">450</text>
<text x="1943.3" y="1578.3" font-size="31.5" fill="#333" textLength="43.5" lengthAdjust="spacingAndGlyphs">500</text>
<text x="2131.0" y="1578.3" font-size="31.5" fill="#333" textLength="43.5" lengthAdjust="spacingAndGlyphs">550</text>
<rect x="830.8" y="1535.3" width="337.2" height="12" fill="#D95319" opacity="0.33"/>
<rect x="1540.9" y="1535.3" width="610.0" height="12" fill="#D95319" opacity="0.33"/>
<g filter="url(#soft)" opacity="0.92"><path d="M830.9,1541.3h11.8M834.6,1541.3h11.8M838.4,1541.3h11.8M842.1,1541.3h11.8M845.9,1541.3h11.8M849.6,1541.3h11.8M853.3,1541.3h11.8M857.1,1541.3h11.8M860.8,1541.3h11.8M864.5,1541.3h11.8M868.3,1541.3h11.8M872.0,1541.3h11.8M875.8,1541.3h11.8M879.5,1541.3h11.8M883.2,1541.3h11.8M887.0,1541.3h11.8M890.7,1541.3h11.8M894.4,1541.3h11.8M898.2,1541.3h11.8M901.9,1541.3h11.8M905.7,1541.3h11.8M909.4,1541.3h11.8M913.1,1541.3h11.8M916.9,1541.3h11.8M920.6,1541.3h11.8M924.3,1541.3h11.8M928.1,1541.3h11.8M931.8,1541.3h11.8M935.6,1541.3h11.8M939.3,1541.3h11.8M943.0,1541.3h11.8M946.8,1541.3h11.8M950.5,1541.3h11.8M954.2,1541.3h11.8M958.0,1541.3h11.8M961.7,1541.3h11.8M965.5,1541.3h11.8M969.2,1541.3h11.8M972.9,1541.3h11.8M976.7,1541.3h11.8M980.4,1541.3h11.8M984.1,1541.3h11.8M987.9,1541.3h11.8M991.6,1541.3h11.8M995.4,1541.3h11.8M999.1,1541.3h11.8M1002.8,1541.3h11.8M1006.6,1541.3h11.8M1010.3,1541.3h11.8M1014.0,1541.3h11.8M1017.8,1541.3h11.8M1021.5,1541.3h11.8M1025.3,1541.3h11.8M1029.0,1541.3h11.8M1032.7,1541.3h11.8M1036.5,1541.3h11.8M1040.2,1541.3h11.8M1043.9,1541.3h11.8M1047.7,1541.3h11.8M1051.4,1541.3h11.8M1055.2,1541.3h11.8M1058.9,1541.3h11.8M1062.6,1541.3h11.8M1066.4,1541.3h11.8M1070.1,1541.3h11.8M1073.8,1541.3h11.8M1077.6,1541.3h11.8M1081.3,1541.3h11.8M1085.1,1541.3h11.8M1088.8,1541.3h11.8M1092.5,1541.3h11.8M1096.3,1541.3h11.8M1100.0,1541.2h11.8M1103.7,1541.2h11.8M1107.5,1541.2h11.8M1111.2,1541.2h11.8M1115.0,1541.1h11.8M1118.7,1541.1h11.8M1122.4,1541.0h11.8M1126.2,1541.0h11.8M1129.9,1540.9h11.8M1133.6,1540.7h11.8M1137.4,1540.6h11.8M1141.1,1540.4h11.8M1144.9,1540.2h11.8M1148.6,1539.9h11.8M1152.3,1539.6h11.8M1156.1,1539.2h11.8M1159.8,1538.7h11.8M1163.5,1538.1h11.8M1167.3,1537.4h11.8M1171.0,1536.5h11.8M1174.8,1535.5h11.8M1178.5,1534.3h11.8M1182.2,1532.9h11.8M1186.0,1531.3h11.8M1189.7,1529.4h11.8M1193.4,1527.1h11.8M1197.2,1524.5h11.8M1200.9,1521.6h11.8M1204.7,1518.2h11.8M1208.4,1514.3h11.8M1212.1,1509.9h11.8M1215.9,1504.9h11.8M1219.6,1499.4h11.8M1223.3,1493.1h11.8M1227.1,1486.2h11.8M1230.8,1478.5h11.8M1234.6,1470.0h11.8M1238.3,1460.8h11.8M1242.0,1450.6h11.8M1245.8,1439.7h11.8M1249.5,1427.8h11.8M1253.2,1415.1h11.8M1257.0,1401.5h11.8M1260.7,1387.1h11.8M1264.5,1372.0h11.8M1268.2,1356.0h11.8M1271.9,1339.4h11.8M1275.7,1322.2h11.8M1279.4,1304.5h11.8M1283.1,1286.4h11.8M1286.9,1268.1h11.8M1290.6,1249.6h11.8M1294.4,1231.1h11.8M1298.1,1212.8h11.8M1301.8,1194.8h11.8M1305.6,1177.4h11.8M1309.3,1160.5h11.8M1313.1,1144.6h11.8M1316.8,1129.6h11.8M1320.5,1115.8h11.8M1324.3,1103.4h11.8M1328.0,1092.4h11.8M1331.7,1083.0h11.8M1335.5,1075.2h11.8M1339.2,1069.3h11.8M1343.0,1065.3h11.8M1346.7,1063.2h11.8M1350.4,1063.0h11.8M1354.2,1064.7h11.8M1357.9,1068.4h11.8M1361.6,1073.9h11.8M1365.4,1081.3h11.8M1369.1,1090.4h11.8M1372.9,1101.0h11.8M1376.6,1113.2h11.8M1380.3,1126.8h11.8M1384.1,1141.5h11.8M1387.8,1157.3h11.8M1391.5,1173.9h11.8M1395.3,1191.3h11.8M1399.0,1209.2h11.8M1402.8,1227.4h11.8M1406.5,1245.9h11.8M1410.2,1264.4h11.8M1414.0,1282.8h11.8M1417.7,1300.9h11.8M1421.4,1318.7h11.8M1425.2,1336.0h11.8M1428.9,1352.8h11.8M1432.7,1368.8h11.8M1436.4,1384.2h11.8M1440.1,1398.7h11.8M1443.9,1412.5h11.8M1447.6,1425.3h11.8M1451.3,1437.4h11.8M1455.1,1448.5h11.8M1458.8,1458.8h11.8M1462.6,1468.2h11.8M1466.3,1476.9h11.8M1470.0,1484.7h11.8M1473.8,1491.8h11.8M1477.5,1498.2h11.8M1481.2,1503.9h11.8M1485.0,1509.0h11.8M1488.7,1513.5h11.8M1492.5,1517.4h11.8M1496.2,1520.9h11.8M1499.9,1524.0h11.8M1503.7,1526.6h11.8M1507.4,1528.9h11.8M1511.1,1530.9h11.8M1514.9,1532.6h11.8M1518.6,1534.1h11.8M1522.4,1535.3h11.8M1526.1,1536.3h11.8M1529.8,1537.2h11.8M1533.6,1538.0h11.8M1537.3,1538.6h11.8M1541.0,1539.1h11.8M1544.8,1539.5h11.8M1548.5,1539.9h11.8M1552.3,1540.1h11.8M1556.0,1540.4h11.8M1559.7,1540.6h11.8M1563.5,1540.7h11.8M1567.2,1540.8h11.8M1570.9,1540.9h11.8M1574.7,1541.0h11.8M1578.4,1541.1h11.8M1582.2,1541.1h11.8M1585.9,1541.2h11.8M1589.6,1541.2h11.8M1593.4,1541.2h11.8M1597.1,1541.2h11.8M1600.8,1541.3h11.8M1604.6,1541.3h11.8M1608.3,1541.3h11.8M1612.1,1541.3h11.8M1615.8,1541.3h11.8M1619.5,1541.3h11.8M1623.3,1541.3h11.8M1627.0,1541.3h11.8M1630.7,1541.3h11.8M1634.5,1541.3h11.8M1638.2,1541.3h11.8M1642.0,1541.3h11.8M1645.7,1541.3h11.8M1649.4,1541.3h11.8M1653.2,1541.3h11.8M1656.9,1541.3h11.8M1660.6,1541.3h11.8M1664.4,1541.3h11.8M1668.1,1541.3h11.8M1671.9,1541.3h11.8M1675.6,1541.3h11.8M1679.3,1541.3h11.8M1683.1,1541.3h11.8M1686.8,1541.3h11.8M1690.5,1541.3h11.8M1694.3,1541.3h11.8M1698.0,1541.3h11.8M1701.8,1541.3h11.8M1705.5,1541.3h11.8M1709.2,1541.3h11.8M1713.0,1541.3h11.8M1716.7,1541.3h11.8M1720.4,1541.3h11.8M1724.2,1541.3h11.8M1727.9,1541.3h11.8M1731.7,1541.3h11.8M1735.4,1541.3h11.8M1739.1,1541.3h11.8M1742.9,1541.3h11.8M1746.6,1541.3h11.8M1750.3,1541.3h11.8M1754.1,1541.3h11.8M1757.8,1541.3h11.8M1761.6,1541.3h11.8M1765.3,1541.3h11.8M1769.0,1541.3h11.8M1772.8,1541.3h11.8M1776.5,1541.3h11.8M1780.3,1541.3h11.8M1784.0,1541.3h11.8M1787.7,1541.3h11.8M1791.5,1541.3h11.8M1795.2,1541.3h11.8M1798.9,1541.3h11.8M1802.7,1541.3h11.8M1806.4,1541.3h11.8M1810.2,1541.3h11.8M1813.9,1541.3h11.8M1817.6,1541.3h11.8M1821.4,1541.3h11.8M1825.1,1541.3h11.8M1828.8,1541.3h11.8M1832.6,1541.3h11.8M1836.3,1541.3h11.8M1840.1,1541.3h11.8M1843.8,1541.3h11.8M1847.5,1541.3h11.8M1851.3,1541.3h11.8M1855.0,1541.3h11.8M1858.7,1541.3h11.8M1862.5,1541.3h11.8M1866.2,1541.3h11.8M1870.0,1541.3h11.8M1873.7,1541.3h11.8M1877.4,1541.3h11.8M1881.2,1541.3h11.8M1884.9,1541.3h11.8M1888.6,1541.3h11.8M1892.4,1541.3h11.8M1896.1,1541.3h11.8M1899.9,1541.3h11.8M1903.6,1541.3h11.8M1907.3,1541.3h11.8M1911.1,1541.3h11.8M1914.8,1541.3h11.8M1918.5,1541.3h11.8M1922.3,1541.3h11.8M1926.0,1541.3h11.8M1929.8,1541.3h11.8M1933.5,1541.3h11.8M1937.2,1541.3h11.8M1941.0,1541.3h11.8M1944.7,1541.3h11.8M1948.4,1541.3h11.8M1952.2,1541.3h11.8M1955.9,1541.3h11.8M1959.7,1541.3h11.8M1963.4,1541.3h11.8M1967.1,1541.3h11.8M1970.9,1541.3h11.8M1974.6,1541.3h11.8M1978.3,1541.3h11.8M1982.1,1541.3h11.8M1985.8,1541.3h11.8M1989.6,1541.3h11.8M1993.3,1541.3h11.8M1997.0,1541.3h11.8M2000.8,1541.3h11.8M2004.5,1541.3h11.8M2008.2,1541.3h11.8M2012.0,1541.3h11.8M2015.7,1541.3h11.8M2019.5,1541.3h11.8M2023.2,1541.3h11.8M2026.9,1541.3h11.8M2030.7,1541.3h11.8M2034.4,1541.3h11.8M2038.1,1541.3h11.8M2041.9,1541.3h11.8M2045.6,1541.3h11.8M2049.4,1541.3h11.8M2053.1,1541.3h11.8M2056.8,1541.3h11.8M2060.6,1541.3h11.8M2064.3,1541.3h11.8M2068.0,1541.3h11.8M2071.8,1541.3h11.8M2075.5,1541.3h11.8M2079.3,1541.3h11.8M2083.0,1541.3h11.8M2086.7,1541.3h11.8M2090.5,1541.3h11.8M2094.2,1541.3h11.8M2097.9,1541.3h11.8M2101.7,1541.3h11.8M2105.4,1541.3h11.8M2109.2,1541.3h11.8M2112.9,1541.3h11.8M2116.6,1541.3h11.8M2120.4,1541.3h11.8M2124.1,1541.3h11.8M2127.8,1541.3h11.8M2131.6,1541.3h11.8M2135.3,1541.3h11.8M2139.1,1541.3h11.8" stroke="#D95319" stroke-width="2.2" fill="none"/><path d="M836.8,1535.3v12M840.5,1535.3v12M844.3,1535.3v12M848.0,1535.3v12M851.8,1535.3v12M855.5,1535.3v12M859.2,1535.3v12M863.0,1535.3v12M866.7,1535.3v12M870.4,1535.3v12M874.2,1535.3v12M877.9,1535.3v12M881.7,1535.3v12M885.4,1535.3v12M889.1,1535.3v12M892.9,1535.3v12M896.6,1535.3v12M900.3,1535.3v12M904.1,1535.3v12M907.8,1535.3v12M911.6,1535.3v12M915.3,1535.3v12M919.0,1535.3v12M922.8,1535.3v12M926.5,1535.3v12M930.2,1535.3v12M934.0,1535.3v12M937.7,1535.3v12M941.5,1535.3v12M945.2,1535.3v12M948.9,1535.3v12M952.7,1535.3v12M956.4,1535.3v12M960.1,1535.3v12M963.9,1535.3v12M967.6,1535.3v12M971.4,1535.3v12M975.1,1535.3v12M978.8,1535.3v12M982.6,1535.3v12M986.3,1535.3v12M990.0,1535.3v12M993.8,1535.3v12M997.5,1535.3v12M1001.3,1535.3v12M1005.0,1535.3v12M1008.7,1535.3v12M1012.5,1535.3v12M1016.2,1535.3v12M1019.9,1535.3v12M1023.7,1535.3v12M1027.4,1535.3v12M1031.2,1535.3v12M1034.9,1535.3v12M1038.6,1535.3v12M1042.4,1535.3v12M1046.1,1535.3v12M1049.8,1535.3v12M1053.6,1535.3v12M1057.3,1535.3v12M1061.1,1535.3v12M1064.8,1535.3v12M1068.5,1535.3v12M1072.3,1535.3v12M1076.0,1535.3v12M1079.7,1535.3v12M1083.5,1535.3v12M1087.2,1535.3v12M1091.0,1535.3v12M1094.7,1535.3v12M1098.4,1535.3v12M1102.2,1535.3v12M1105.9,1535.2v12M1109.6,1535.2v12M1113.4,1535.2v12M1117.1,1535.2v12M1120.9,1535.1v12M1124.6,1535.1v12M1128.3,1535.0v12M1132.1,1535.0v12M1135.8,1534.9v12M1139.5,1534.7v12M1143.3,1534.6v12M1147.0,1534.4v12M1150.8,1534.2v12M1154.5,1533.9v12M1158.2,1533.6v12M1162.0,1533.2v12M1165.7,1532.7v12M1169.4,1532.1v12M1173.2,1531.4v12M1176.9,1530.5v12M1180.7,1529.5v12M1184.4,1528.3v12M1188.1,1526.9v12M1191.9,1525.3v12M1195.6,1523.4v12M1199.3,1521.1v12M1203.1,1518.5v12M1206.8,1515.6v12M1210.6,1512.2v12M1214.3,1508.3v12M1218.0,1503.9v12M1221.8,1498.9v12M1225.5,1493.4v12M1229.2,1487.1v12M1233.0,1480.2v12M1236.7,1472.5v12M1240.5,1464.0v12M1244.2,1454.8v12M1247.9,1444.6v12M1251.7,1433.7v12M1255.4,1421.8v12M1259.1,1409.1v12M1262.9,1395.5v12M1266.6,1381.1v12M1270.4,1366.0v12M1274.1,1350.0v12M1277.8,1333.4v12M1281.6,1316.2v12M1285.3,1298.5v12M1289.0,1280.4v12M1292.8,1262.1v12M1296.5,1243.6v12M1300.3,1225.1v12M1304.0,1206.8v12M1307.7,1188.8v12M1311.5,1171.4v12M1315.2,1154.5v12M1319.0,1138.6v12M1322.7,1123.6v12M1326.4,1109.8v12M1330.2,1097.4v12M1333.9,1086.4v12M1337.6,1077.0v12M1341.4,1069.2v12M1345.1,1063.3v12M1348.9,1059.3v12M1352.6,1057.2v12M1356.3,1057.0v12M1360.1,1058.7v12M1363.8,1062.4v12M1367.5,1067.9v12M1371.3,1075.3v12M1375.0,1084.4v12M1378.8,1095.0v12M1382.5,1107.2v12M1386.2,1120.8v12M1390.0,1135.5v12M1393.7,1151.3v12M1397.4,1167.9v12M1401.2,1185.3v12M1404.9,1203.2v12M1408.7,1221.4v12M1412.4,1239.9v12M1416.1,1258.4v12M1419.9,1276.8v12M1423.6,1294.9v12M1427.3,1312.7v12M1431.1,1330.0v12M1434.8,1346.8v12M1438.6,1362.8v12M1442.3,1378.2v12M1446.0,1392.7v12M1449.8,1406.5v12M1453.5,1419.3v12M1457.2,1431.4v12M1461.0,1442.5v12M1464.7,1452.8v12M1468.5,1462.2v12M1472.2,1470.9v12M1475.9,1478.7v12M1479.7,1485.8v12M1483.4,1492.2v12M1487.1,1497.9v12M1490.9,1503.0v12M1494.6,1507.5v12M1498.4,1511.4v12M1502.1,1514.9v12M1505.8,1518.0v12M1509.6,1520.6v12M1513.3,1522.9v12M1517.0,1524.9v12M1520.8,1526.6v12M1524.5,1528.1v12M1528.3,1529.3v12M1532.0,1530.3v12M1535.7,1531.2v12M1539.5,1532.0v12M1543.2,1532.6v12M1546.9,1533.1v12M1550.7,1533.5v12M1554.4,1533.9v12M1558.2,1534.1v12M1561.9,1534.4v12M1565.6,1534.6v12M1569.4,1534.7v12M1573.1,1534.8v12M1576.8,1534.9v12M1580.6,1535.0v12M1584.3,1535.1v12M1588.1,1535.1v12M1591.8,1535.2v12M1595.5,1535.2v12M1599.3,1535.2v12M1603.0,1535.2v12M1606.7,1535.3v12M1610.5,1535.3v12M1614.2,1535.3v12M1618.0,1535.3v12M1621.7,1535.3v12M1625.4,1535.3v12M1629.2,1535.3v12M1632.9,1535.3v12M1636.6,1535.3v12M1640.4,1535.3v12M1644.1,1535.3v12M1647.9,1535.3v12M1651.6,1535.3v12M1655.3,1535.3v12M1659.1,1535.3v12M1662.8,1535.3v12M1666.5,1535.3v12M1670.3,1535.3v12M1674.0,1535.3v12M1677.8,1535.3v12M1681.5,1535.3v12M1685.2,1535.3v12M1689.0,1535.3v12M1692.7,1535.3v12M1696.4,1535.3v12M1700.2,1535.3v12M1703.9,1535.3v12M1707.7,1535.3v12M1711.4,1535.3v12M1715.1,1535.3v12M1718.9,1535.3v12M1722.6,1535.3v12M1726.3,1535.3v12M1730.1,1535.3v12M1733.8,1535.3v12M1737.6,1535.3v12M1741.3,1535.3v12M1745.0,1535.3v12M1748.8,1535.3v12M1752.5,1535.3v12M1756.2,1535.3v12M1760.0,1535.3v12M1763.7,1535.3v12M1767.5,1535.3v12M1771.2,1535.3v12M1774.9,1535.3v12M1778.7,1535.3v12M1782.4,1535.3v12M1786.2,1535.3v12M1789.9,1535.3v12M1793.6,1535.3v12M1797.4,1535.3v12M1801.1,1535.3v12M1804.8,1535.3v12M1808.6,1535.3v12M1812.3,1535.3v12M1816.1,1535.3v12M1819.8,1535.3v12M1823.5,1535.3v12M1827.3,1535.3v12M1831.0,1535.3v12M1834.7,1535.3v12M1838.5,1535.3v12M1842.2,1535.3v12M1846.0,1535.3v12M1849.7,1535.3v12M1853.4,1535.3v12M1857.2,1535.3v12M1860.9,1535.3v12M1864.6,1535.3v12M1868.4,1535.3v12M1872.1,1535.3v12M1875.9,1535.3v12M1879.6,1535.3v12M1883.3,1535.3v12M1887.1,1535.3v12M1890.8,1535.3v12M1894.5,1535.3v12M1898.3,1535.3v12M1902.0,1535.3v12M1905.8,1535.3v12M1909.5,1535.3v12M1913.2,1535.3v12M1917.0,1535.3v12M1920.7,1535.3v12M1924.4,1535.3v12M1928.2,1535.3v12M1931.9,1535.3v12M1935.7,1535.3v12M1939.4,1535.3v12M1943.1,1535.3v12M1946.9,1535.3v12M1950.6,1535.3v12M1954.3,1535.3v12M1958.1,1535.3v12M1961.8,1535.3v12M1965.6,1535.3v12M1969.3,1535.3v12M1973.0,1535.3v12M1976.8,1535.3v12M1980.5,1535.3v12M1984.2,1535.3v12M1988.0,1535.3v12M1991.7,1535.3v12M1995.5,1535.3v12M1999.2,1535.3v12M2002.9,1535.3v12M2006.7,1535.3v12M2010.4,1535.3v12M2014.1,1535.3v12M2017.9,1535.3v12M2021.6,1535.3v12M2025.4,1535.3v12M2029.1,1535.3v12M2032.8,1535.3v12M2036.6,1535.3v12M2040.3,1535.3v12M2044.0,1535.3v12M2047.8,1535.3v12M2051.5,1535.3v12M2055.3,1535.3v12M2059.0,1535.3v12M2062.7,1535.3v12M2066.5,1535.3v12M2070.2,1535.3v12M2073.9,1535.3v12M2077.7,1535.3v12M2081.4,1535.3v12M2085.2,1535.3v12M2088.9,1535.3v12M2092.6,1535.3v12M2096.4,1535.3v12M2100.1,1535.3v12M2103.8,1535.3v12M2107.6,1535.3v12M2111.3,1535.3v12M2115.1,1535.3v12M2118.8,1535.3v12M2122.5,1535.3v12M2126.3,1535.3v12M2130.0,1535.3v12M2133.7,1535.3v12M2137.5,1535.3v12M2141.2,1535.3v12M2145.0,1535.3v12" stroke="#D95319" stroke-width="1.8" fill="none"/></g>
<rect x="830.8" y="1535.3" width="535.3" height="12" fill="#EDB120" opacity="0.33"/>
<rect x="1978.2" y="1535.3" width="172.7" height="12" fill="#EDB120" opacity="0.33"/>
<g filter="url(#soft)" opacity="0.92"><path d="M830.9,1541.3h11.8M834.6,1541.3h11.8M838.4,1541.3h11.8M842.1,1541.3h11.8M845.9,1541.3h11.8M849.6,1541.3h11.8M853.3,1541.3h11.8M857.1,1541.3h11.8M860.8,1541.3h11.8M864.5,1541.3h11.8M868.3,1541.3h11.8M872.0,1541.3h11.8M875.8,1541.3h11.8M879.5,1541.3h11.8M883.2,1541.3h11.8M887.0,1541.3h11.8M890.7,1541.3h11.8M894.4,1541.3h11.8M898.2,1541.3h11.8M901.9,1541.3h11.8M905.7,1541.3h11.8M909.4,1541.3h11.8M913.1,1541.3h11.8M916.9,1541.3h11.8M920.6,1541.3h11.8M924.3,1541.3h11.8M928.1,1541.3h11.8M931.8,1541.3h11.8M935.6,1541.3h11.8M939.3,1541.3h11.8M943.0,1541.3h11.8M946.8,1541.3h11.8M950.5,1541.3h11.8M954.2,1541.3h11.8M958.0,1541.3h11.8M961.7,1541.3h11.8M965.5,1541.3h11.8M969.2,1541.3h11.8M972.9,1541.3h11.8M976.7,1541.3h11.8M980.4,1541.3h11.8M984.1,1541.3h11.8M987.9,1541.3h11.8M991.6,1541.3h11.8M995.4,1541.3h11.8M999.1,1541.3h11.8M1002.8,1541.3h11.8M1006.6,1541.3h11.8M1010.3,1541.3h11.8M1014.0,1541.3h11.8M1017.8,1541.3h11.8M1021.5,1541.3h11.8M1025.3,1541.3h11.8M1029.0,1541.3h11.8M1032.7,1541.3h11.8M1036.5,1541.3h11.8M1040.2,1541.3h11.8M1043.9,1541.3h11.8M1047.7,1541.3h11.8M1051.4,1541.3h11.8M1055.2,1541.3h11.8M1058.9,1541.3h11.8M1062.6,1541.3h11.8M1066.4,1541.3h11.8M1070.1,1541.3h11.8M1073.8,1541.3h11.8M1077.6,1541.3h11.8M1081.3,1541.3h11.8M1085.1,1541.3h11.8M1088.8,1541.3h11.8M1092.5,1541.3h11.8M1096.3,1541.3h11.8M1100.0,1541.3h11.8M1103.7,1541.3h11.8M1107.5,1541.3h11.8M1111.2,1541.3h11.8M1115.0,1541.3h11.8M1118.7,1541.3h11.8M1122.4,1541.3h11.8M1126.2,1541.3h11.8M1129.9,1541.3h11.8M1133.6,1541.3h11.8M1137.4,1541.3h11.8M1141.1,1541.3h11.8M1144.9,1541.3h11.8M1148.6,1541.3h11.8M1152.3,1541.3h11.8M1156.1,1541.3h11.8M1159.8,1541.3h11.8M1163.5,1541.3h11.8M1167.3,1541.3h11.8M1171.0,1541.3h11.8M1174.8,1541.3h11.8M1178.5,1541.3h11.8M1182.2,1541.3h11.8M1186.0,1541.3h11.8M1189.7,1541.3h11.8M1193.4,1541.3h11.8M1197.2,1541.3h11.8M1200.9,1541.3h11.8M1204.7,1541.3h11.8M1208.4,1541.3h11.8M1212.1,1541.3h11.8M1215.9,1541.3h11.8M1219.6,1541.3h11.8M1223.3,1541.3h11.8M1227.1,1541.3h11.8M1230.8,1541.3h11.8M1234.6,1541.3h11.8M1238.3,1541.3h11.8M1242.0,1541.3h11.8M1245.8,1541.3h11.8M1249.5,1541.3h11.8M1253.2,1541.3h11.8M1257.0,1541.3h11.8M1260.7,1541.3h11.8M1264.5,1541.2h11.8M1268.2,1541.2h11.8M1271.9,1541.2h11.8M1275.7,1541.2h11.8M1279.4,1541.2h11.8M1283.1,1541.2h11.8M1286.9,1541.1h11.8M1290.6,1541.1h11.8M1294.4,1541.1h11.8M1298.1,1541.0h11.8M1301.8,1541.0h11.8M1305.6,1541.0h11.8M1309.3,1540.9h11.8M1313.1,1540.8h11.8M1316.8,1540.8h11.8M1320.5,1540.7h11.8M1324.3,1540.6h11.8M1328.0,1540.4h11.8M1331.7,1540.3h11.8M1335.5,1540.2h11.8M1339.2,1540.0h11.8M1343.0,1539.8h11.8M1346.7,1539.6h11.8M1350.4,1539.3h11.8M1354.2,1539.0h11.8M1357.9,1538.7h11.8M1361.6,1538.4h11.8M1365.4,1538.0h11.8M1369.1,1537.5h11.8M1372.9,1537.0h11.8M1376.6,1536.4h11.8M1380.3,1535.8h11.8M1384.1,1535.1h11.8M1387.8,1534.3h11.8M1391.5,1533.4h11.8M1395.3,1532.5h11.8M1399.0,1531.4h11.8M1402.8,1530.2h11.8M1406.5,1528.9h11.8M1410.2,1527.4h11.8M1414.0,1525.8h11.8M1417.7,1524.1h11.8M1421.4,1522.2h11.8M1425.2,1520.1h11.8M1428.9,1517.8h11.8M1432.7,1515.3h11.8M1436.4,1512.6h11.8M1440.1,1509.7h11.8M1443.9,1506.5h11.8M1447.6,1503.1h11.8M1451.3,1499.4h11.8M1455.1,1495.4h11.8M1458.8,1491.1h11.8M1462.6,1486.5h11.8M1466.3,1481.6h11.8M1470.0,1476.3h11.8M1473.8,1470.7h11.8M1477.5,1464.7h11.8M1481.2,1458.4h11.8M1485.0,1451.7h11.8M1488.7,1444.5h11.8M1492.5,1437.0h11.8M1496.2,1429.1h11.8M1499.9,1420.7h11.8M1503.7,1412.0h11.8M1507.4,1402.8h11.8M1511.1,1393.2h11.8M1514.9,1383.3h11.8M1518.6,1372.9h11.8M1522.4,1362.1h11.8M1526.1,1350.9h11.8M1529.8,1339.4h11.8M1533.6,1327.5h11.8M1537.3,1315.2h11.8M1541.0,1302.6h11.8M1544.8,1289.8h11.8M1548.5,1276.7h11.8M1552.3,1263.3h11.8M1556.0,1249.7h11.8M1559.7,1236.0h11.8M1563.5,1222.1h11.8M1567.2,1208.1h11.8M1570.9,1194.0h11.8M1574.7,1180.0h11.8M1578.4,1166.0h11.8M1582.2,1152.0h11.8M1585.9,1138.2h11.8M1589.6,1124.6h11.8M1593.4,1111.1h11.8M1597.1,1098.0h11.8M1600.8,1085.2h11.8M1604.6,1072.8h11.8M1608.3,1060.8h11.8M1612.1,1049.3h11.8M1615.8,1038.3h11.8M1619.5,1027.9h11.8M1623.3,1018.1h11.8M1627.0,1009.0h11.8M1630.7,1000.6h11.8M1634.5,992.9h11.8M1638.2,986.0h11.8M1642.0,979.9h11.8M1645.7,974.7h11.8M1649.4,970.3h11.8M1653.2,966.8h11.8M1656.9,964.3h11.8M1660.6,962.6h11.8M1664.4,961.9h11.8M1668.1,962.0h11.8M1671.9,963.2h11.8M1675.6,965.2h11.8M1679.3,968.1h11.8M1683.1,972.0h11.8M1686.8,976.7h11.8M1690.5,982.3h11.8M1694.3,988.7h11.8M1698.0,995.9h11.8M1701.8,1003.8h11.8M1705.5,1012.5h11.8M1709.2,1021.9h11.8M1713.0,1032.0h11.8M1716.7,1042.6h11.8M1720.4,1053.8h11.8M1724.2,1065.5h11.8M1727.9,1077.7h11.8M1731.7,1090.3h11.8M1735.4,1103.2h11.8M1739.1,1116.5h11.8M1742.9,1130.0h11.8M1746.6,1143.7h11.8M1750.3,1157.6h11.8M1754.1,1171.6h11.8M1757.8,1185.6h11.8M1761.6,1199.7h11.8M1765.3,1213.7h11.8M1769.0,1227.6h11.8M1772.8,1241.5h11.8M1776.5,1255.2h11.8M1780.3,1268.7h11.8M1784.0,1281.9h11.8M1787.7,1295.0h11.8M1791.5,1307.7h11.8M1795.2,1320.1h11.8M1798.9,1332.3h11.8M1802.7,1344.0h11.8M1806.4,1355.4h11.8M1810.2,1366.4h11.8M1813.9,1377.1h11.8M1817.6,1387.3h11.8M1821.4,1397.1h11.8M1825.1,1406.5h11.8M1828.8,1415.5h11.8M1832.6,1424.1h11.8M1836.3,1432.3h11.8M1840.1,1440.1h11.8M1843.8,1447.4h11.8M1847.5,1454.4h11.8M1851.3,1461.0h11.8M1855.0,1467.2h11.8M1858.7,1473.0h11.8M1862.5,1478.5h11.8M1866.2,1483.6h11.8M1870.0,1488.4h11.8M1873.7,1492.9h11.8M1877.4,1497.0h11.8M1881.2,1500.9h11.8M1884.9,1504.5h11.8M1888.6,1507.8h11.8M1892.4,1510.9h11.8M1896.1,1513.7h11.8M1899.9,1516.3h11.8M1903.6,1518.7h11.8M1907.3,1520.9h11.8M1911.1,1523.0h11.8M1914.8,1524.8h11.8M1918.5,1526.5h11.8M1922.3,1528.0h11.8M1926.0,1529.4h11.8M1929.8,1530.7h11.8M1933.5,1531.8h11.8M1937.2,1532.9h11.8M1941.0,1533.8h11.8M1944.7,1534.6h11.8M1948.4,1535.4h11.8M1952.2,1536.1h11.8M1955.9,1536.7h11.8M1959.7,1537.2h11.8M1963.4,1537.7h11.8M1967.1,1538.1h11.8M1970.9,1538.5h11.8M1974.6,1538.9h11.8M1978.3,1539.2h11.8M1982.1,1539.4h11.8M1985.8,1539.7h11.8M1989.6,1539.9h11.8M1993.3,1540.1h11.8M1997.0,1540.2h11.8M2000.8,1540.4h11.8M2004.5,1540.5h11.8M2008.2,1540.6h11.8M2012.0,1540.7h11.8M2015.7,1540.8h11.8M2019.5,1540.9h11.8M2023.2,1540.9h11.8M2026.9,1541.0h11.8M2030.7,1541.0h11.8M2034.4,1541.1h11.8M2038.1,1541.1h11.8M2041.9,1541.1h11.8M2045.6,1541.2h11.8M2049.4,1541.2h11.8M2053.1,1541.2h11.8M2056.8,1541.2h11.8M2060.6,1541.2h11.8M2064.3,1541.2h11.8M2068.0,1541.2h11.8M2071.8,1541.3h11.8M2075.5,1541.3h11.8M2079.3,1541.3h11.8M2083.0,1541.3h11.8M2086.7,1541.3h11.8M2090.5,1541.3h11.8M2094.2,1541.3h11.8M2097.9,1541.3h11.8M2101.7,1541.3h11.8M2105.4,1541.3h11.8M2109.2,1541.3h11.8M2112.9,1541.3h11.8M2116.6,1541.3h11.8M2120.4,1541.3h11.8M2124.1,1541.3h11.8M2127.8,1541.3h11.8M2131.6,1541.3h11.8M2135.3,1541.3h11.8M2139.1,1541.3h11.8" stroke="#EDB120" stroke-width="2.2" fill="none"/><path d="M836.8,1535.3v12M840.5,1535.3v12M844.3,1535.3v12M848.0,1535.3v12M851.8,1535.3v12M855.5,1535.3v12M859.2,1535.3v12M863.0,1535.3v12M866.7,1535.3v12M870.4,1535.3v12M874.2,1535.3v12M877.9,1535.3v12M881.7,1535.3v12M885.4,1535.3v12M889.1,1535.3v12M892.9,1535.3v12M896.6,1535.3v12M900.3,1535.3v12M904.1,1535.3v12M907.8,1535.3v12M911.6,1535.3v12M915.3,1535.3v12M919.0,1535.3v12M922.8,1535.3v12M926.5,1535.3v12M930.2,1535.3v12M934.0,1535.3v12M937.7,1535.3v12M941.5,1535.3v12M945.2,1535.3v12M948.9,1535.3v12M952.7,1535.3v12M956.4,1535.3v12M960.1,1535.3v12M963.9,1535.3v12M967.6,1535.3v12M971.4,1535.3v12M975.1,1535.3v12M978.8,1535.3v12M982.6,1535.3v12M986.3,1535.3v12M990.0,1535.3v12M993.8,1535.3v12M997.5,1535.3v12M1001.3,1535.3v12M1005.0,1535.3v12M1008.7,1535.3v12M1012.5,1535.3v12M1016.2,1535.3v12M1019.9,1535.3v12M1023.7,1535.3v12M1027.4,1535.3v12M1031.2,1535.3v12M1034.9,1535.3v12M1038.6,1535.3v12M1042.4,1535.3v12M1046.1,1535.3v12M1049.8,1535.3v12M1053.6,1535.3v12M1057.3,1535.3v12M1061.1,1535.3v12M1064.8,1535.3v12M1068.5,1535.3v12M1072.3,1535.3v12M1076.0,1535.3v12M1079.7,1535.3v12M1083.5,1535.3v12M1087.2,1535.3v12M1091.0,1535.3v12M1094.7,1535.3v12M1098.4,1535.3v12M1102.2,1535.3v12M1105.9,1535.3v12M1109.6,1535.3v12M1113.4,1535.3v12M1117.1,1535.3v12M1120.9,1535.3v12M1124.6,1535.3v12M1128.3,1535.3v12M1132.1,1535.3v12M1135.8,1535.3v12M1139.5,1535.3v12M1143.3,1535.3v12M1147.0,1535.3v12M1150.8,1535.3v12M1154.5,1535.3v12M1158.2,1535.3v12M1162.0,1535.3v12M1165.7,1535.3v12M1169.4,1535.3v12M1173.2,1535.3v12M1176.9,1535.3v12M1180.7,1535.3v12M1184.4,1535.3v12M1188.1,1535.3v12M1191.9,1535.3v12M1195.6,1535.3v12M1199.3,1535.3v12M1203.1,1535.3v12M1206.8,1535.3v12M1210.6,1535.3v12M1214.3,1535.3v12M1218.0,1535.3v12M1221.8,1535.3v12M1225.5,1535.3v12M1229.2,1535.3v12M1233.0,1535.3v12M1236.7,1535.3v12M1240.5,1535.3v12M1244.2,1535.3v12M1247.9,1535.3v12M1251.7,1535.3v12M1255.4,1535.3v12M1259.1,1535.3v12M1262.9,1535.3v12M1266.6,1535.3v12M1270.4,1535.2v12M1274.1,1535.2v12M1277.8,1535.2v12M1281.6,1535.2v12M1285.3,1535.2v12M1289.0,1535.2v12M1292.8,1535.1v12M1296.5,1535.1v12M1300.3,1535.1v12M1304.0,1535.0v12M1307.7,1535.0v12M1311.5,1535.0v12M1315.2,1534.9v12M1319.0,1534.8v12M1322.7,1534.8v12M1326.4,1534.7v12M1330.2,1534.6v12M1333.9,1534.4v12M1337.6,1534.3v12M1341.4,1534.2v12M1345.1,1534.0v12M1348.9,1533.8v12M1352.6,1533.6v12M1356.3,1533.3v12M1360.1,1533.0v12M1363.8,1532.7v12M1367.5,1532.4v12M1371.3,1532.0v12M1375.0,1531.5v12M1378.8,1531.0v12M1382.5,1530.4v12M1386.2,1529.8v12M1390.0,1529.1v12M1393.7,1528.3v12M1397.4,1527.4v12M1401.2,1526.5v12M1404.9,1525.4v12M1408.7,1524.2v12M1412.4,1522.9v12M1416.1,1521.4v12M1419.9,1519.8v12M1423.6,1518.1v12M1427.3,1516.2v12M1431.1,1514.1v12M1434.8,1511.8v12M1438.6,1509.3v12M1442.3,1506.6v12M1446.0,1503.7v12M1449.8,1500.5v12M1453.5,1497.1v12M1457.2,1493.4v12M1461.0,1489.4v12M1464.7,1485.1v12M1468.5,1480.5v12M1472.2,1475.6v12M1475.9,1470.3v12M1479.7,1464.7v12M1483.4,1458.7v12M1487.1,1452.4v12M1490.9,1445.7v12M1494.6,1438.5v12M1498.4,1431.0v12M1502.1,1423.1v12M1505.8,1414.7v12M1509.6,1406.0v12M1513.3,1396.8v12M1517.0,1387.2v12M1520.8,1377.3v12M1524.5,1366.9v12M1528.3,1356.1v12M1532.0,1344.9v12M1535.7,1333.4v12M1539.5,1321.5v12M1543.2,1309.2v12M1546.9,1296.6v12M1550.7,1283.8v12M1554.4,1270.7v12M1558.2,1257.3v12M1561.9,1243.7v12M1565.6,1230.0v12M1569.4,1216.1v12M1573.1,1202.1v12M1576.8,1188.0v12M1580.6,1174.0v12M1584.3,1160.0v12M1588.1,1146.0v12M1591.8,1132.2v12M1595.5,1118.6v12M1599.3,1105.1v12M1603.0,1092.0v12M1606.7,1079.2v12M1610.5,1066.8v12M1614.2,1054.8v12M1618.0,1043.3v12M1621.7,1032.3v12M1625.4,1021.9v12M1629.2,1012.1v12M1632.9,1003.0v12M1636.6,994.6v12M1640.4,986.9v12M1644.1,980.0v12M1647.9,973.9v12M1651.6,968.7v12M1655.3,964.3v12M1659.1,960.8v12M1662.8,958.3v12M1666.5,956.6v12M1670.3,955.9v12M1674.0,956.0v12M1677.8,957.2v12M1681.5,959.2v12M1685.2,962.1v12M1689.0,966.0v12M1692.7,970.7v12M1696.4,976.3v12M1700.2,982.7v12M1703.9,989.9v12M1707.7,997.8v12M1711.4,1006.5v12M1715.1,1015.9v12M1718.9,1026.0v12M1722.6,1036.6v12M1726.3,1047.8v12M1730.1,1059.5v12M1733.8,1071.7v12M1737.6,1084.3v12M1741.3,1097.2v12M1745.0,1110.5v12M1748.8,1124.0v12M1752.5,1137.7v12M1756.2,1151.6v12M1760.0,1165.6v12M1763.7,1179.6v12M1767.5,1193.7v12M1771.2,1207.7v12M1774.9,1221.6v12M1778.7,1235.5v12M1782.4,1249.2v12M1786.2,1262.7v12M1789.9,1275.9v12M1793.6,1289.0v12M1797.4,1301.7v12M1801.1,1314.1v12M1804.8,1326.3v12M1808.6,1338.0v12M1812.3,1349.4v12M1816.1,1360.4v12M1819.8,1371.1v12M1823.5,1381.3v12M1827.3,1391.1v12M1831.0,1400.5v12M1834.7,1409.5v12M1838.5,1418.1v12M1842.2,1426.3v12M1846.0,1434.1v12M1849.7,1441.4v12M1853.4,1448.4v12M1857.2,1455.0v12M1860.9,1461.2v12M1864.6,1467.0v12M1868.4,1472.5v12M1872.1,1477.6v12M1875.9,1482.4v12M1879.6,1486.9v12M1883.3,1491.0v12M1887.1,1494.9v12M1890.8,1498.5v12M1894.5,1501.8v12M1898.3,1504.9v12M1902.0,1507.7v12M1905.8,1510.3v12M1909.5,1512.7v12M1913.2,1514.9v12M1917.0,1517.0v12M1920.7,1518.8v12M1924.4,1520.5v12M1928.2,1522.0v12M1931.9,1523.4v12M1935.7,1524.7v12M1939.4,1525.8v12M1943.1,1526.9v12M1946.9,1527.8v12M1950.6,1528.6v12M1954.3,1529.4v12M1958.1,1530.1v12M1961.8,1530.7v12M1965.6,1531.2v12M1969.3,1531.7v12M1973.0,1532.1v12M1976.8,1532.5v12M1980.5,1532.9v12M1984.2,1533.2v12M1988.0,1533.4v12M1991.7,1533.7v12M1995.5,1533.9v12M1999.2,1534.1v12M2002.9,1534.2v12M2006.7,1534.4v12M2010.4,1534.5v12M2014.1,1534.6v12M2017.9,1534.7v12M2021.6,1534.8v12M2025.4,1534.9v12M2029.1,1534.9v12M2032.8,1535.0v12M2036.6,1535.0v12M2040.3,1535.1v12M2044.0,1535.1v12M2047.8,1535.1v12M2051.5,1535.2v12M2055.3,1535.2v12M2059.0,1535.2v12M2062.7,1535.2v12M2066.5,1535.2v12M2070.2,1535.2v12M2073.9,1535.2v12M2077.7,1535.3v12M2081.4,1535.3v12M2085.2,1535.3v12M2088.9,1535.3v12M2092.6,1535.3v12M2096.4,1535.3v12M2100.1,1535.3v12M2103.8,1535.3v12M2107.6,1535.3v12M2111.3,1535.3v12M2115.1,1535.3v12M2118.8,1535.3v12M2122.5,1535.3v12M2126.3,1535.3v12M2130.0,1535.3v12M2133.7,1535.3v12M2137.5,1535.3v12M2141.2,1535.3v12M2145.0,1535.3v12" stroke="#EDB120" stroke-width="1.8" fill="none"/></g>
<line x1="1047.8" y1="1062.9" x2="1354.5" y2="1062.9" stroke="#222" stroke-width="2" />
<line x1="1673.0" y1="962.0" x2="1998.0" y2="962.0" stroke="#777" stroke-width="3.2" />
<line x1="1076.7" y1="1088.0" x2="1076.7" y2="1517.0" stroke="#111" stroke-width="2" />
<polygon points="1076.7,1066.3 1085.7,1090.3 1067.7,1090.3" fill="#000"/>
<polygon points="1076.7,1539.7 1067.7,1515.7 1085.7,1515.7" fill="#000"/>
<line x1="1972.4" y1="987.0" x2="1972.4" y2="1519.0" stroke="#777" stroke-width="3.2" />
<polygon points="1972.4,964.4 1980.9,987.4 1963.9,987.4" fill="#000"/>
<polygon points="1972.5,1542.6 1964.0,1518.6 1981.0,1518.6" fill="#000"/>
<line x1="1055.0" y1="1127.8" x2="1278.2" y2="1323.5" stroke="#262626" stroke-width="1.5" />
<polygon points="1046.0,1119.9 1069.6,1129.3 1058.4,1142.1" fill="#000"/>
<line x1="1353.9" y1="1062" x2="1353.9" y2="1541" stroke="#1fae5c" stroke-width="3" stroke-dasharray="47.5 25.7"/>
<line x1="1671.8" y1="962" x2="1672.3" y2="1520" stroke="#1fae5c" stroke-width="3" stroke-dasharray="47.5 25.7"/>
<line x1="1278.2" y1="1323.5" x2="1429" y2="1323.5" stroke="#7E2F8E" stroke-width="3.2" stroke-dasharray="24 12.8"/>
<line x1="1552.9" y1="1270.8" x2="1784.2" y2="1270.8" stroke="#7E2F8E" stroke-width="3.2" stroke-dasharray="24 12.8"/>
<line x1="1473.2" y1="1362.0" x2="1473.2" y2="1541.0" stroke="#ff4b4b" stroke-width="2" />
<path d="M1213.2,1541.3 C1213.6,1539.8 1214.8,1536.8 1215.7,1532.3 C1216.6,1527.8 1217.8,1520.5 1218.8,1514.6 C1219.8,1508.7 1220.6,1504.3 1221.5,1497.0 C1222.4,1489.7 1223.2,1478.4 1224.1,1470.5 C1225.0,1462.6 1225.8,1455.4 1226.7,1449.4 C1227.6,1443.4 1228.2,1439.0 1229.4,1434.4 C1230.6,1429.8 1232.2,1424.7 1233.8,1422.0 C1235.4,1419.3 1237.3,1418.0 1239.1,1418.5 C1240.9,1419.0 1242.8,1421.6 1244.4,1424.7 C1246.0,1427.8 1247.3,1433.2 1248.8,1437.0 C1250.3,1440.8 1251.6,1445.7 1253.2,1447.6 C1254.8,1449.5 1257.0,1450.3 1258.5,1448.5 C1260.0,1446.7 1261.0,1442.9 1262.0,1437.0 C1263.0,1431.1 1263.8,1420.0 1264.7,1413.0 C1265.6,1406.0 1266.1,1404.3 1267.6,1395.0 C1269.1,1385.7 1271.6,1369.6 1273.6,1357.0 C1275.6,1344.4 1277.5,1331.5 1279.8,1319.6 C1282.1,1307.7 1285.0,1297.3 1287.6,1285.4 C1290.2,1273.5 1292.8,1255.3 1295.4,1248.0 C1298.0,1240.7 1301.1,1246.0 1303.2,1241.8 C1305.3,1237.6 1306.0,1234.0 1307.8,1223.1 C1309.6,1212.2 1311.8,1192.0 1314.1,1176.4 C1316.4,1160.8 1318.9,1139.6 1321.8,1129.7 C1324.7,1119.8 1328.8,1123.4 1331.2,1117.2 C1333.6,1111.0 1334.4,1102.7 1335.9,1092.3 C1337.5,1081.9 1338.7,1063.2 1340.5,1054.9 C1342.3,1046.6 1344.7,1043.8 1346.8,1042.5 C1348.9,1041.2 1350.9,1044.0 1353.0,1047.1 C1355.1,1050.2 1357.1,1059.0 1359.2,1061.1 C1361.3,1063.2 1363.3,1060.6 1365.4,1059.6 C1367.5,1058.6 1369.6,1054.7 1371.7,1054.9 C1373.8,1055.2 1376.1,1055.9 1377.9,1061.1 C1379.7,1066.3 1380.8,1076.8 1382.6,1086.1 C1384.4,1095.4 1386.2,1107.9 1388.8,1117.2 C1391.4,1126.5 1395.5,1131.7 1398.1,1142.1 C1400.7,1152.5 1402.1,1166.0 1404.4,1179.5 C1406.8,1193.0 1409.1,1207.5 1412.2,1223.1 C1415.3,1238.7 1420.2,1266.7 1423.1,1272.9 C1425.9,1279.1 1427.5,1263.6 1429.3,1260.5 C1431.1,1257.4 1432.5,1253.2 1434.0,1254.2 C1435.5,1255.2 1436.8,1257.4 1438.6,1266.7 C1440.4,1276.0 1442.8,1294.7 1444.9,1310.3 C1447.0,1325.9 1449.0,1348.2 1451.1,1360.1 C1453.2,1372.0 1455.0,1375.2 1457.3,1381.9 C1459.6,1388.7 1462.8,1390.7 1465.1,1400.6 C1467.4,1410.5 1469.4,1426.8 1471.3,1441.1 C1473.2,1455.4 1474.6,1477.6 1476.4,1486.4 C1478.2,1495.2 1480.7,1492.2 1482.2,1494.0 C1483.7,1495.8 1484.0,1501.1 1485.5,1497.4 C1487.0,1493.7 1489.2,1483.4 1491.0,1471.9 C1492.8,1460.4 1494.3,1450.1 1496.4,1428.2 C1498.5,1406.3 1501.3,1367.4 1503.7,1340.7 C1506.1,1314.0 1508.6,1291.0 1511.0,1267.9 C1513.4,1244.8 1515.9,1215.0 1518.3,1202.3 C1520.7,1189.5 1523.2,1192.0 1525.6,1191.4 C1528.0,1190.8 1530.2,1199.2 1532.9,1198.6 C1535.6,1198.0 1539.0,1189.5 1542.0,1187.7 C1545.0,1185.9 1548.7,1185.3 1551.1,1187.7 C1553.5,1190.1 1554.7,1192.0 1556.5,1202.3 C1558.3,1212.6 1560.2,1235.1 1562.0,1249.7 C1563.8,1264.3 1565.7,1277.6 1567.5,1289.7 C1569.3,1301.8 1571.1,1321.3 1572.9,1322.5 C1574.7,1323.7 1576.3,1312.2 1578.4,1297.0 C1580.5,1281.8 1583.6,1243.5 1585.7,1231.4 C1587.8,1219.3 1589.0,1224.5 1591.1,1224.2 C1593.2,1223.9 1596.0,1233.2 1598.4,1229.6 C1600.8,1225.9 1603.6,1217.2 1605.7,1202.3 C1607.8,1187.4 1609.4,1161.1 1611.2,1140.4 C1613.0,1119.8 1614.8,1097.8 1616.6,1078.4 C1618.4,1059.0 1620.3,1035.3 1622.1,1023.8 C1623.9,1012.3 1626.1,1009.8 1627.6,1009.2 C1629.1,1008.6 1629.7,1017.1 1631.2,1020.1 C1632.7,1023.1 1634.6,1028.6 1636.7,1027.4 C1638.8,1026.2 1641.9,1017.5 1644.0,1012.9 C1646.1,1008.3 1647.3,1003.5 1649.4,1000.1 C1651.5,996.8 1654.3,992.2 1656.7,992.8 C1659.1,993.4 1661.9,1001.4 1664.0,1003.8 C1666.1,1006.2 1667.7,1013.8 1669.5,1007.4 C1671.3,1001.0 1673.1,973.1 1674.9,965.5 C1676.7,957.9 1678.3,960.1 1680.4,961.9 C1682.5,963.7 1685.6,970.3 1687.7,976.4 C1689.8,982.5 1691.0,989.2 1693.1,998.3 C1695.2,1007.4 1698.0,1023.5 1700.4,1031.1 C1702.8,1038.7 1705.3,1043.8 1707.7,1043.8 C1710.1,1043.8 1712.9,1038.1 1715.0,1031.1 C1717.1,1024.1 1718.7,1005.5 1720.5,1001.9 C1722.3,998.2 1723.8,998.9 1725.9,1009.2 C1728.0,1019.5 1731.1,1049.0 1733.2,1063.9 C1735.3,1078.8 1736.9,1094.2 1738.7,1098.5 C1740.5,1102.8 1742.1,1093.7 1744.2,1089.4 C1746.3,1085.2 1749.0,1074.8 1751.4,1073.0 C1753.8,1071.2 1756.3,1073.9 1758.7,1078.4 C1761.1,1083.0 1763.6,1089.4 1766.0,1100.3 C1768.4,1111.2 1771.2,1128.2 1773.3,1144.0 C1775.4,1159.8 1777.0,1174.3 1778.8,1195.0 C1780.6,1215.7 1782.4,1243.6 1784.2,1267.9 C1786.0,1292.2 1787.9,1323.7 1789.7,1340.7 C1791.5,1357.7 1792.4,1363.2 1795.1,1369.9 C1797.8,1376.6 1802.4,1377.8 1806.1,1380.8 C1809.8,1383.8 1813.4,1386.3 1817.0,1388.1 C1820.6,1389.9 1824.9,1388.1 1827.9,1391.7 C1830.9,1395.3 1832.8,1402.0 1835.2,1409.9 C1837.6,1417.8 1840.1,1428.2 1842.5,1439.1 C1844.9,1450.0 1847.4,1464.0 1849.8,1475.5 C1852.2,1487.0 1854.7,1497.4 1857.1,1508.3 C1859.5,1519.2 1863.2,1535.5 1864.4,1541.0" fill="none" stroke="#1c1c1c" stroke-width="1.8" stroke-linejoin="round"/>
<rect x="1983.8" y="989.4" width="155.20000000000005" height="127.50000000000011" fill="#fff" stroke="#6e6e6e" stroke-width="2.6"/>
<line x1="1987.0" y1="999.6" x2="2033.8" y2="999.6" stroke="#111" stroke-width="2" />
<text x="2036.7" y="1020.8" font-size="38.5" fill="#000" textLength="30.5" lengthAdjust="spacingAndGlyphs">H</text>
<path d="M1993.7,1043.8h11M1999.2,1038.3v11" stroke="#D95319" stroke-width="1.8" opacity="0.85"/>
<path d="M1993.7,1080.4h11M1999.2,1074.9v11" stroke="#EDB120" stroke-width="1.8" opacity="0.85"/>
<text x="2016.0" y="1055.4" font-size="38.5" fill="#000" textLength="121.7" lengthAdjust="spacingAndGlyphs">Gauss1</text>
<text x="2016.0" y="1095.8" font-size="38.5" fill="#000" textLength="122.9" lengthAdjust="spacingAndGlyphs">Gauss2</text>
<text x="1004.2" y="1127.7" font-size="44" fill="#000" textLength="29.5" lengthAdjust="spacingAndGlyphs">σ</text>
<text x="1031.5" y="1127.7" font-size="30" fill="#000" textLength="14.5" lengthAdjust="spacingAndGlyphs">1</text>
<text x="961.0" y="1344.1" font-size="45" fill="#000" textLength="55.0" lengthAdjust="spacingAndGlyphs">f(μ</text>
<text x="1018.5" y="1344.1" font-size="28" fill="#000" textLength="18.0" lengthAdjust="spacingAndGlyphs">1</text>
<text x="1042.5" y="1344.1" font-size="45" fill="#000" textLength="13.0" lengthAdjust="spacingAndGlyphs">)</text>
<text x="1337.1" y="1621.7" font-size="48" fill="#000" textLength="31.0" lengthAdjust="spacingAndGlyphs">μ</text>
<text x="1367.0" y="1621.7" font-size="29" fill="#000" textLength="19.0" lengthAdjust="spacingAndGlyphs">1</text>
<text x="1446.2" y="1617.6" font-size="53.4" fill="#000" textLength="59.2" lengthAdjust="spacingAndGlyphs">T2</text>
<text x="1658.8" y="1621.7" font-size="48" fill="#000" textLength="31.0" lengthAdjust="spacingAndGlyphs">μ</text>
<text x="1689.5" y="1621.7" font-size="29" fill="#000" textLength="17.5" lengthAdjust="spacingAndGlyphs">2</text>
<text x="1303.2" y="1676.0" font-size="47.5" fill="#000" textLength="343.8" lengthAdjust="spacingAndGlyphs">Pixel row count</text>
<text x="0.0" y="0.0" font-size="50" fill="#000" textLength="381.3" lengthAdjust="spacingAndGlyphs" transform="translate(785.2,1451.6) rotate(-90)">Number of pixels</text>
</svg></body></html>
